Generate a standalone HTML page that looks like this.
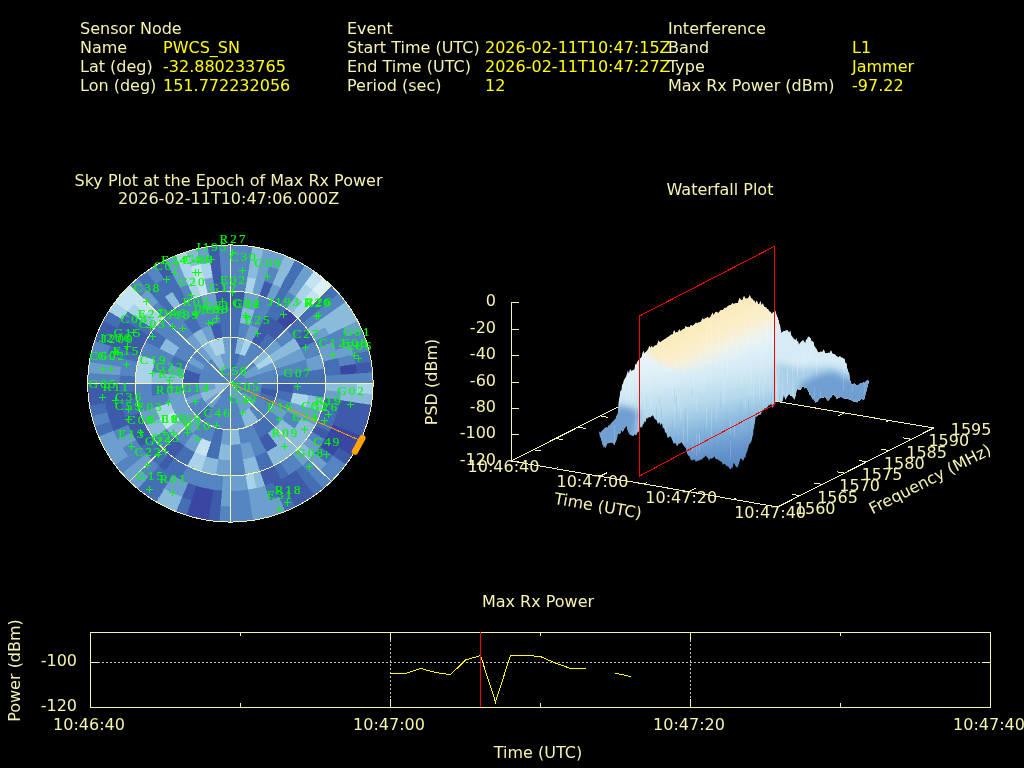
<!DOCTYPE html>
<html><head><meta charset="utf-8"><title>Interference Event</title>
<style>
html,body{margin:0;padding:0;background:#000;}
svg{display:block;opacity:.999;}
text{font-family:"DejaVu Sans","Liberation Sans",sans-serif;font-size:16px;fill:#f6f3ae;}
.v{fill:#ffff00;}
.sat text{font-family:"Liberation Serif","DejaVu Serif",serif;font-size:13px;letter-spacing:2.1px;fill:#00ff00;stroke:#00ff00;stroke-width:.2px;text-anchor:middle;}
.ax{stroke:#f6f3ae;stroke-width:1;fill:none;}
.cr{shape-rendering:crispEdges;}
</style></head><body>
<svg width="1024" height="768" viewBox="0 0 1024 768">
<rect width="1024" height="768" fill="#000"/>
<g id="hdr">
<text x="80" y="34">Sensor Node</text>
<text x="80" y="53">Name</text><text x="163" y="53" class="v">PWCS_SN</text>
<text x="80" y="72">Lat (deg)</text><text x="163" y="72" class="v">-32.880233765</text>
<text x="80" y="91">Lon (deg)</text><text x="163" y="91" class="v">151.772232056</text>
<text x="347" y="34">Event</text>
<text x="347" y="53">Start Time (UTC)</text><text x="485" y="53" class="v">2026-02-11T10:47:15Z</text>
<text x="347" y="72">End Time (UTC)</text><text x="485" y="72" class="v">2026-02-11T10:47:27Z</text>
<text x="347" y="91">Period (sec)</text><text x="485" y="91" class="v">12</text>
<text x="668" y="34">Interference</text>
<text x="668" y="53">Band</text><text x="852" y="53" class="v">L1</text>
<text x="668" y="72">Type</text><text x="852" y="72" class="v">Jammer</text>
<text x="668" y="91">Max Rx Power (dBm)</text><text x="852" y="91" class="v">-97.22</text>
</g>

<g id="sky">
<text x="228.5" y="186" text-anchor="middle">Sky Plot at the Epoch of Max Rx Power</text>
<text x="228.5" y="204" text-anchor="middle">2026-02-11T10:47:06.000Z</text>
<clipPath id="skc"><ellipse cx="230.4" cy="383.5" rx="142.8" ry="138.6"/></clipPath>
<g clip-path="url(#skc)" shape-rendering="crispEdges">
<rect x="80" y="240" width="300" height="290" fill="#5585c1"/>
<path fill="#5585c1" stroke="#5585c1" stroke-width=".6" d="M230.4 368.1L231.1 368.1L231.7 368.2L232.4 368.2L233.0 368.3L233.7 368.4L234.3 368.6L234.9 368.7L235.6 368.9L236.2 369.2L236.8 369.4L237.4 369.7L238.0 370.0L238.5 370.3L239.1 370.6L239.6 371.0L240.1 371.3L240.7 371.7L241.1 372.2L241.6 372.6L230.4 383.5 Z"/>
<path fill="#5585c1" stroke="#5585c1" stroke-width=".6" d="M241.6 372.6L242.1 373.1L242.5 373.5L242.9 374.0L243.3 374.6L243.7 375.1L244.0 375.6L244.4 376.2L244.7 376.7L244.9 377.3L245.2 377.9L245.4 378.5L245.6 379.1L245.8 379.7L245.9 380.3L246.1 381.0L246.1 381.6L246.2 382.2L246.3 382.9L246.3 383.5L230.4 383.5 Z"/>
<path fill="#5585c1" stroke="#5585c1" stroke-width=".6" d="M246.3 383.5L246.3 384.1L246.2 384.8L246.1 385.4L246.1 386.0L245.9 386.7L245.8 387.3L245.6 387.9L245.4 388.5L245.2 389.1L244.9 389.7L244.7 390.3L244.4 390.8L244.0 391.4L243.7 391.9L243.3 392.4L242.9 393.0L242.5 393.5L242.1 393.9L241.6 394.4L230.4 383.5 Z"/>
<path fill="#6c9fce" stroke="#6c9fce" stroke-width=".6" d="M241.6 394.4L241.1 394.8L240.7 395.3L240.1 395.7L239.6 396.0L239.1 396.4L238.5 396.7L238.0 397.0L237.4 397.3L236.8 397.6L236.2 397.8L235.6 398.1L234.9 398.3L234.3 398.4L233.7 398.6L233.0 398.7L232.4 398.8L231.7 398.8L231.1 398.9L230.4 398.9L230.4 383.5 Z"/>
<path fill="#5585c1" stroke="#5585c1" stroke-width=".6" d="M230.4 398.9L229.7 398.9L229.1 398.8L228.4 398.8L227.8 398.7L227.1 398.6L226.5 398.4L225.9 398.3L225.2 398.1L224.6 397.8L224.0 397.6L223.4 397.3L222.8 397.0L222.3 396.7L221.7 396.4L221.2 396.0L220.7 395.7L220.1 395.3L219.7 394.8L219.2 394.4L230.4 383.5 Z"/>
<path fill="#8abbdb" stroke="#8abbdb" stroke-width=".6" d="M219.2 394.4L218.7 393.9L218.3 393.5L217.9 393.0L217.5 392.4L217.1 391.9L216.8 391.4L216.4 390.8L216.1 390.3L215.9 389.7L215.6 389.1L215.4 388.5L215.2 387.9L215.0 387.3L214.9 386.7L214.7 386.0L214.7 385.4L214.6 384.8L214.5 384.1L214.5 383.5L230.4 383.5 Z"/>
<path fill="#5585c1" stroke="#5585c1" stroke-width=".6" d="M214.5 383.5L214.5 382.9L214.6 382.2L214.7 381.6L214.7 381.0L214.9 380.3L215.0 379.7L215.2 379.1L215.4 378.5L215.6 377.9L215.9 377.3L216.1 376.7L216.4 376.2L216.8 375.6L217.1 375.1L217.5 374.6L217.9 374.0L218.3 373.5L218.7 373.1L219.2 372.6L230.4 383.5 Z"/>
<path fill="#5585c1" stroke="#5585c1" stroke-width=".6" d="M219.2 372.6L219.7 372.2L220.1 371.7L220.7 371.3L221.2 371.0L221.7 370.6L222.3 370.3L222.8 370.0L223.4 369.7L224.0 369.4L224.6 369.2L225.2 368.9L225.9 368.7L226.5 368.6L227.1 368.4L227.8 368.3L228.4 368.2L229.1 368.2L229.7 368.1L230.4 368.1L230.4 383.5 Z"/>
<path fill="#456fb5" stroke="#456fb5" stroke-width=".6" d="M230.4 352.7L231.6 352.7L232.9 352.8L234.1 352.9L235.4 353.1L236.6 353.3L237.8 353.6L239.0 353.9L240.2 354.2L235.3 368.9L234.7 368.7L234.1 368.5L233.5 368.4L232.9 368.3L232.3 368.2L231.6 368.1L231.0 368.1L230.4 368.1 Z"/>
<path fill="#5585c1" stroke="#5585c1" stroke-width=".6" d="M240.2 354.2L241.4 354.6L242.5 355.0L243.7 355.5L244.8 356.1L245.9 356.6L247.0 357.2L248.0 357.9L249.1 358.6L239.7 371.0L239.2 370.7L238.7 370.4L238.2 370.1L237.6 369.8L237.0 369.5L236.5 369.3L235.9 369.1L235.3 368.9 Z"/>
<path fill="#5585c1" stroke="#5585c1" stroke-width=".6" d="M249.1 358.6L250.0 359.3L251.0 360.1L251.9 360.9L252.8 361.7L253.7 362.6L254.5 363.5L255.3 364.4L256.1 365.4L243.2 374.4L242.9 374.0L242.5 373.5L242.1 373.0L241.6 372.6L241.2 372.2L240.7 371.8L240.2 371.4L239.7 371.0 Z"/>
<path fill="#6c9fce" stroke="#6c9fce" stroke-width=".6" d="M256.1 365.4L256.8 366.4L257.5 367.4L258.1 368.5L258.7 369.5L259.2 370.6L259.7 371.7L260.2 372.8L260.6 374.0L245.5 378.7L245.3 378.2L245.1 377.6L244.8 377.1L244.5 376.5L244.2 376.0L243.9 375.5L243.6 374.9L243.2 374.4 Z"/>
<path fill="#5585c1" stroke="#5585c1" stroke-width=".6" d="M260.6 374.0L260.9 375.1L261.3 376.3L261.5 377.5L261.7 378.7L261.9 379.9L262.0 381.1L262.1 382.3L262.1 383.5L246.3 383.5L246.3 382.9L246.2 382.3L246.2 381.7L246.1 381.1L246.0 380.5L245.8 379.9L245.7 379.3L245.5 378.7 Z"/>
<path fill="#5585c1" stroke="#5585c1" stroke-width=".6" d="M262.1 383.5L262.1 384.7L262.0 385.9L261.9 387.1L261.7 388.3L261.5 389.5L261.3 390.7L260.9 391.9L260.6 393.0L245.5 388.3L245.7 387.7L245.8 387.1L246.0 386.5L246.1 385.9L246.2 385.3L246.2 384.7L246.3 384.1L246.3 383.5 Z"/>
<path fill="#5585c1" stroke="#5585c1" stroke-width=".6" d="M260.6 393.0L260.2 394.2L259.7 395.3L259.2 396.4L258.7 397.5L258.1 398.5L257.5 399.6L256.8 400.6L256.1 401.6L243.2 392.6L243.6 392.1L243.9 391.5L244.2 391.0L244.5 390.5L244.8 389.9L245.1 389.4L245.3 388.8L245.5 388.3 Z"/>
<path fill="#6c9fce" stroke="#6c9fce" stroke-width=".6" d="M256.1 401.6L255.3 402.6L254.5 403.5L253.7 404.4L252.8 405.3L251.9 406.1L251.0 406.9L250.0 407.7L249.1 408.4L239.7 396.0L240.2 395.6L240.7 395.2L241.2 394.8L241.6 394.4L242.1 394.0L242.5 393.5L242.9 393.0L243.2 392.6 Z"/>
<path fill="#6c9fce" stroke="#6c9fce" stroke-width=".6" d="M249.1 408.4L248.0 409.1L247.0 409.8L245.9 410.4L244.8 410.9L243.7 411.5L242.5 412.0L241.4 412.4L240.2 412.8L235.3 398.1L235.9 397.9L236.5 397.7L237.0 397.5L237.6 397.2L238.2 396.9L238.7 396.6L239.2 396.3L239.7 396.0 Z"/>
<path fill="#5585c1" stroke="#5585c1" stroke-width=".6" d="M240.2 412.8L239.0 413.1L237.8 413.4L236.6 413.7L235.4 413.9L234.1 414.1L232.9 414.2L231.6 414.3L230.4 414.3L230.4 398.9L231.0 398.9L231.6 398.9L232.3 398.8L232.9 398.7L233.5 398.6L234.1 398.5L234.7 398.3L235.3 398.1 Z"/>
<path fill="#5585c1" stroke="#5585c1" stroke-width=".6" d="M230.4 414.3L229.2 414.3L227.9 414.2L226.7 414.1L225.4 413.9L224.2 413.7L223.0 413.4L221.8 413.1L220.6 412.8L225.5 398.1L226.1 398.3L226.7 398.5L227.3 398.6L227.9 398.7L228.5 398.8L229.2 398.9L229.8 398.9L230.4 398.9 Z"/>
<path fill="#5585c1" stroke="#5585c1" stroke-width=".6" d="M220.6 412.8L219.4 412.4L218.3 412.0L217.1 411.5L216.0 410.9L214.9 410.4L213.8 409.8L212.8 409.1L211.7 408.4L221.1 396.0L221.6 396.3L222.1 396.6L222.6 396.9L223.2 397.2L223.8 397.5L224.3 397.7L224.9 397.9L225.5 398.1 Z"/>
<path fill="#6c9fce" stroke="#6c9fce" stroke-width=".6" d="M211.7 408.4L210.8 407.7L209.8 406.9L208.9 406.1L208.0 405.3L207.1 404.4L206.3 403.5L205.5 402.6L204.7 401.6L217.6 392.6L217.9 393.0L218.3 393.5L218.7 394.0L219.2 394.4L219.6 394.8L220.1 395.2L220.6 395.6L221.1 396.0 Z"/>
<path fill="#8abbdb" stroke="#8abbdb" stroke-width=".6" d="M204.7 401.6L204.0 400.6L203.3 399.6L202.7 398.5L202.1 397.5L201.6 396.4L201.1 395.3L200.6 394.2L200.2 393.0L215.3 388.3L215.5 388.8L215.7 389.4L216.0 389.9L216.3 390.5L216.6 391.0L216.9 391.5L217.2 392.1L217.6 392.6 Z"/>
<path fill="#6c9fce" stroke="#6c9fce" stroke-width=".6" d="M200.2 393.0L199.9 391.9L199.5 390.7L199.3 389.5L199.1 388.3L198.9 387.1L198.8 385.9L198.7 384.7L198.7 383.5L214.5 383.5L214.5 384.1L214.6 384.7L214.6 385.3L214.7 385.9L214.8 386.5L215.0 387.1L215.1 387.7L215.3 388.3 Z"/>
<path fill="#5585c1" stroke="#5585c1" stroke-width=".6" d="M198.7 383.5L198.7 382.3L198.8 381.1L198.9 379.9L199.1 378.7L199.3 377.5L199.5 376.3L199.9 375.1L200.2 374.0L215.3 378.7L215.1 379.3L215.0 379.9L214.8 380.5L214.7 381.1L214.6 381.7L214.6 382.3L214.5 382.9L214.5 383.5 Z"/>
<path fill="#5585c1" stroke="#5585c1" stroke-width=".6" d="M200.2 374.0L200.6 372.8L201.1 371.7L201.6 370.6L202.1 369.5L202.7 368.5L203.3 367.4L204.0 366.4L204.7 365.4L217.6 374.4L217.2 374.9L216.9 375.5L216.6 376.0L216.3 376.5L216.0 377.1L215.7 377.6L215.5 378.2L215.3 378.7 Z"/>
<path fill="#5585c1" stroke="#5585c1" stroke-width=".6" d="M204.7 365.4L205.5 364.4L206.3 363.5L207.1 362.6L208.0 361.7L208.9 360.9L209.8 360.1L210.8 359.3L211.7 358.6L221.1 371.0L220.6 371.4L220.1 371.8L219.6 372.2L219.2 372.6L218.7 373.0L218.3 373.5L217.9 374.0L217.6 374.4 Z"/>
<path fill="#8abbdb" stroke="#8abbdb" stroke-width=".6" d="M211.7 358.6L212.8 357.9L213.8 357.2L214.9 356.6L216.0 356.1L217.1 355.5L218.3 355.0L219.4 354.6L220.6 354.2L225.5 368.9L224.9 369.1L224.3 369.3L223.8 369.5L223.2 369.8L222.6 370.1L222.1 370.4L221.6 370.7L221.1 371.0 Z"/>
<path fill="#6c9fce" stroke="#6c9fce" stroke-width=".6" d="M220.6 354.2L221.8 353.9L223.0 353.6L224.2 353.3L225.4 353.1L226.7 352.9L227.9 352.8L229.2 352.7L230.4 352.7L230.4 368.1L229.8 368.1L229.2 368.1L228.5 368.2L227.9 368.3L227.3 368.4L226.7 368.5L226.1 368.7L225.5 368.9 Z"/>
<path fill="#456fb5" stroke="#456fb5" stroke-width=".6" d="M230.4 337.3L232.3 337.3L234.1 337.4L236.0 337.6L237.8 337.9L235.4 353.1L234.1 352.9L232.9 352.8L231.6 352.7L230.4 352.7 Z"/>
<path fill="#8abbdb" stroke="#8abbdb" stroke-width=".6" d="M237.8 337.9L239.7 338.2L241.5 338.6L243.3 339.0L245.1 339.6L240.2 354.2L239.0 353.9L237.8 353.6L236.6 353.3L235.4 353.1 Z"/>
<path fill="#a9d3e8" stroke="#a9d3e8" stroke-width=".6" d="M245.1 339.6L246.9 340.2L248.6 340.8L250.3 341.5L252.0 342.3L244.8 356.1L243.7 355.5L242.5 355.0L241.4 354.6L240.2 354.2 Z"/>
<path fill="#5585c1" stroke="#5585c1" stroke-width=".6" d="M252.0 342.3L253.7 343.2L255.3 344.1L256.8 345.1L258.4 346.1L249.1 358.6L248.0 357.9L247.0 357.2L245.9 356.6L244.8 356.1 Z"/>
<path fill="#5585c1" stroke="#5585c1" stroke-width=".6" d="M258.4 346.1L259.9 347.2L261.3 348.4L262.7 349.6L264.1 350.8L252.8 361.7L251.9 360.9L251.0 360.1L250.0 359.3L249.1 358.6 Z"/>
<path fill="#8abbdb" stroke="#8abbdb" stroke-width=".6" d="M264.1 350.8L265.4 352.1L266.6 353.5L267.8 354.9L268.9 356.3L256.1 365.4L255.3 364.4L254.5 363.5L253.7 362.6L252.8 361.7 Z"/>
<path fill="#a9d3e8" stroke="#a9d3e8" stroke-width=".6" d="M268.9 356.3L270.0 357.8L271.0 359.4L271.9 360.9L272.8 362.5L258.7 369.5L258.1 368.5L257.5 367.4L256.8 366.4L256.1 365.4 Z"/>
<path fill="#6c9fce" stroke="#6c9fce" stroke-width=".6" d="M272.8 362.5L273.6 364.2L274.4 365.8L275.1 367.5L275.7 369.2L260.6 374.0L260.2 372.8L259.7 371.7L259.2 370.6L258.7 369.5 Z"/>
<path fill="#5585c1" stroke="#5585c1" stroke-width=".6" d="M275.7 369.2L276.2 371.0L276.7 372.7L277.1 374.5L277.4 376.3L261.7 378.7L261.5 377.5L261.3 376.3L260.9 375.1L260.6 374.0 Z"/>
<path fill="#5585c1" stroke="#5585c1" stroke-width=".6" d="M277.4 376.3L277.7 378.1L277.9 379.9L278.0 381.7L278.0 383.5L262.1 383.5L262.1 382.3L262.0 381.1L261.9 379.9L261.7 378.7 Z"/>
<path fill="#456fb5" stroke="#456fb5" stroke-width=".6" d="M278.0 383.5L278.0 385.3L277.9 387.1L277.7 388.9L277.4 390.7L261.7 388.3L261.9 387.1L262.0 385.9L262.1 384.7L262.1 383.5 Z"/>
<path fill="#3e5aab" stroke="#3e5aab" stroke-width=".6" d="M277.4 390.7L277.1 392.5L276.7 394.3L276.2 396.0L275.7 397.8L260.6 393.0L260.9 391.9L261.3 390.7L261.5 389.5L261.7 388.3 Z"/>
<path fill="#456fb5" stroke="#456fb5" stroke-width=".6" d="M275.7 397.8L275.1 399.5L274.4 401.2L273.6 402.8L272.8 404.5L258.7 397.5L259.2 396.4L259.7 395.3L260.2 394.2L260.6 393.0 Z"/>
<path fill="#5585c1" stroke="#5585c1" stroke-width=".6" d="M272.8 404.5L271.9 406.1L271.0 407.6L270.0 409.2L268.9 410.7L256.1 401.6L256.8 400.6L257.5 399.6L258.1 398.5L258.7 397.5 Z"/>
<path fill="#5585c1" stroke="#5585c1" stroke-width=".6" d="M268.9 410.7L267.8 412.1L266.6 413.5L265.4 414.9L264.1 416.2L252.8 405.3L253.7 404.4L254.5 403.5L255.3 402.6L256.1 401.6 Z"/>
<path fill="#5585c1" stroke="#5585c1" stroke-width=".6" d="M264.1 416.2L262.7 417.4L261.3 418.6L259.9 419.8L258.4 420.9L249.1 408.4L250.0 407.7L251.0 406.9L251.9 406.1L252.8 405.3 Z"/>
<path fill="#8abbdb" stroke="#8abbdb" stroke-width=".6" d="M258.4 420.9L256.8 421.9L255.3 422.9L253.7 423.8L252.0 424.7L244.8 410.9L245.9 410.4L247.0 409.8L248.0 409.1L249.1 408.4 Z"/>
<path fill="#8abbdb" stroke="#8abbdb" stroke-width=".6" d="M252.0 424.7L250.3 425.5L248.6 426.2L246.9 426.8L245.1 427.4L240.2 412.8L241.4 412.4L242.5 412.0L243.7 411.5L244.8 410.9 Z"/>
<path fill="#5585c1" stroke="#5585c1" stroke-width=".6" d="M245.1 427.4L243.3 428.0L241.5 428.4L239.7 428.8L237.8 429.1L235.4 413.9L236.6 413.7L237.8 413.4L239.0 413.1L240.2 412.8 Z"/>
<path fill="#5585c1" stroke="#5585c1" stroke-width=".6" d="M237.8 429.1L236.0 429.4L234.1 429.6L232.3 429.7L230.4 429.7L230.4 414.3L231.6 414.3L232.9 414.2L234.1 414.1L235.4 413.9 Z"/>
<path fill="#5585c1" stroke="#5585c1" stroke-width=".6" d="M230.4 429.7L228.5 429.7L226.7 429.6L224.8 429.4L223.0 429.1L225.4 413.9L226.7 414.1L227.9 414.2L229.2 414.3L230.4 414.3 Z"/>
<path fill="#5585c1" stroke="#5585c1" stroke-width=".6" d="M223.0 429.1L221.1 428.8L219.3 428.4L217.5 428.0L215.7 427.4L220.6 412.8L221.8 413.1L223.0 413.4L224.2 413.7L225.4 413.9 Z"/>
<path fill="#5585c1" stroke="#5585c1" stroke-width=".6" d="M215.7 427.4L213.9 426.8L212.2 426.2L210.5 425.5L208.8 424.7L216.0 410.9L217.1 411.5L218.3 412.0L219.4 412.4L220.6 412.8 Z"/>
<path fill="#5585c1" stroke="#5585c1" stroke-width=".6" d="M208.8 424.7L207.1 423.8L205.5 422.9L204.0 421.9L202.4 420.9L211.7 408.4L212.8 409.1L213.8 409.8L214.9 410.4L216.0 410.9 Z"/>
<path fill="#456fb5" stroke="#456fb5" stroke-width=".6" d="M202.4 420.9L200.9 419.8L199.5 418.6L198.1 417.4L196.7 416.2L208.0 405.3L208.9 406.1L209.8 406.9L210.8 407.7L211.7 408.4 Z"/>
<path fill="#5585c1" stroke="#5585c1" stroke-width=".6" d="M196.7 416.2L195.4 414.9L194.2 413.5L193.0 412.1L191.9 410.7L204.7 401.6L205.5 402.6L206.3 403.5L207.1 404.4L208.0 405.3 Z"/>
<path fill="#5585c1" stroke="#5585c1" stroke-width=".6" d="M191.9 410.7L190.8 409.2L189.8 407.6L188.9 406.1L188.0 404.5L202.1 397.5L202.7 398.5L203.3 399.6L204.0 400.6L204.7 401.6 Z"/>
<path fill="#6c9fce" stroke="#6c9fce" stroke-width=".6" d="M188.0 404.5L187.2 402.8L186.4 401.2L185.7 399.5L185.1 397.8L200.2 393.0L200.6 394.2L201.1 395.3L201.6 396.4L202.1 397.5 Z"/>
<path fill="#5585c1" stroke="#5585c1" stroke-width=".6" d="M185.1 397.8L184.6 396.0L184.1 394.3L183.7 392.5L183.4 390.7L199.1 388.3L199.3 389.5L199.5 390.7L199.9 391.9L200.2 393.0 Z"/>
<path fill="#5585c1" stroke="#5585c1" stroke-width=".6" d="M183.4 390.7L183.1 388.9L182.9 387.1L182.8 385.3L182.8 383.5L198.7 383.5L198.7 384.7L198.8 385.9L198.9 387.1L199.1 388.3 Z"/>
<path fill="#3e5aab" stroke="#3e5aab" stroke-width=".6" d="M182.8 383.5L182.8 381.7L182.9 379.9L183.1 378.1L183.4 376.3L199.1 378.7L198.9 379.9L198.8 381.1L198.7 382.3L198.7 383.5 Z"/>
<path fill="#3e5aab" stroke="#3e5aab" stroke-width=".6" d="M183.4 376.3L183.7 374.5L184.1 372.7L184.6 371.0L185.1 369.2L200.2 374.0L199.9 375.1L199.5 376.3L199.3 377.5L199.1 378.7 Z"/>
<path fill="#5585c1" stroke="#5585c1" stroke-width=".6" d="M185.1 369.2L185.7 367.5L186.4 365.8L187.2 364.2L188.0 362.5L202.1 369.5L201.6 370.6L201.1 371.7L200.6 372.8L200.2 374.0 Z"/>
<path fill="#6c9fce" stroke="#6c9fce" stroke-width=".6" d="M188.0 362.5L188.9 360.9L189.8 359.4L190.8 357.8L191.9 356.3L204.7 365.4L204.0 366.4L203.3 367.4L202.7 368.5L202.1 369.5 Z"/>
<path fill="#5585c1" stroke="#5585c1" stroke-width=".6" d="M191.9 356.3L193.0 354.9L194.2 353.5L195.4 352.1L196.7 350.8L208.0 361.7L207.1 362.6L206.3 363.5L205.5 364.4L204.7 365.4 Z"/>
<path fill="#6c9fce" stroke="#6c9fce" stroke-width=".6" d="M196.7 350.8L198.1 349.6L199.5 348.4L200.9 347.2L202.4 346.1L211.7 358.6L210.8 359.3L209.8 360.1L208.9 360.9L208.0 361.7 Z"/>
<path fill="#8abbdb" stroke="#8abbdb" stroke-width=".6" d="M202.4 346.1L204.0 345.1L205.5 344.1L207.1 343.2L208.8 342.3L216.0 356.1L214.9 356.6L213.8 357.2L212.8 357.9L211.7 358.6 Z"/>
<path fill="#a9d3e8" stroke="#a9d3e8" stroke-width=".6" d="M208.8 342.3L210.5 341.5L212.2 340.8L213.9 340.2L215.7 339.6L220.6 354.2L219.4 354.6L218.3 355.0L217.1 355.5L216.0 356.1 Z"/>
<path fill="#a9d3e8" stroke="#a9d3e8" stroke-width=".6" d="M215.7 339.6L217.5 339.0L219.3 338.6L221.1 338.2L223.0 337.9L225.4 353.1L224.2 353.3L223.0 353.6L221.8 353.9L220.6 354.2 Z"/>
<path fill="#6c9fce" stroke="#6c9fce" stroke-width=".6" d="M223.0 337.9L224.8 337.6L226.7 337.4L228.5 337.3L230.4 337.3L230.4 352.7L229.2 352.7L227.9 352.8L226.7 352.9L225.4 353.1 Z"/>
<path fill="#456fb5" stroke="#456fb5" stroke-width=".6" d="M230.4 321.9L232.9 321.9L235.4 322.1L237.9 322.3L240.3 322.7L237.8 337.9L236.0 337.6L234.1 337.4L232.3 337.3L230.4 337.3 Z"/>
<path fill="#5585c1" stroke="#5585c1" stroke-width=".6" d="M240.3 322.7L242.8 323.1L245.2 323.6L247.6 324.2L250.0 324.9L245.1 339.6L243.3 339.0L241.5 338.6L239.7 338.2L237.8 337.9 Z"/>
<path fill="#6c9fce" stroke="#6c9fce" stroke-width=".6" d="M250.0 324.9L252.4 325.7L254.7 326.6L257.0 327.6L259.2 328.6L252.0 342.3L250.3 341.5L248.6 340.8L246.9 340.2L245.1 339.6 Z"/>
<path fill="#3e5aab" stroke="#3e5aab" stroke-width=".6" d="M259.2 328.6L261.4 329.8L263.6 331.0L265.7 332.3L267.7 333.7L258.4 346.1L256.8 345.1L255.3 344.1L253.7 343.2L252.0 342.3 Z"/>
<path fill="#456fb5" stroke="#456fb5" stroke-width=".6" d="M267.7 333.7L269.7 335.1L271.6 336.7L273.5 338.3L275.3 339.9L264.1 350.8L262.7 349.6L261.3 348.4L259.9 347.2L258.4 346.1 Z"/>
<path fill="#6c9fce" stroke="#6c9fce" stroke-width=".6" d="M275.3 339.9L277.0 341.7L278.7 343.5L280.2 345.4L281.7 347.3L268.9 356.3L267.8 354.9L266.6 353.5L265.4 352.1L264.1 350.8 Z"/>
<path fill="#8abbdb" stroke="#8abbdb" stroke-width=".6" d="M281.7 347.3L283.2 349.3L284.5 351.3L285.8 353.4L286.9 355.5L272.8 362.5L271.9 360.9L271.0 359.4L270.0 357.8L268.9 356.3 Z"/>
<path fill="#6c9fce" stroke="#6c9fce" stroke-width=".6" d="M286.9 355.5L288.0 357.7L289.0 359.9L289.9 362.2L290.8 364.5L275.7 369.2L275.1 367.5L274.4 365.8L273.6 364.2L272.8 362.5 Z"/>
<path fill="#5585c1" stroke="#5585c1" stroke-width=".6" d="M290.8 364.5L291.5 366.8L292.1 369.1L292.6 371.5L293.1 373.9L277.4 376.3L277.1 374.5L276.7 372.7L276.2 371.0L275.7 369.2 Z"/>
<path fill="#456fb5" stroke="#456fb5" stroke-width=".6" d="M293.1 373.9L293.4 376.3L293.7 378.7L293.8 381.1L293.9 383.5L278.0 383.5L278.0 381.7L277.9 379.9L277.7 378.1L277.4 376.3 Z"/>
<path fill="#3e5aab" stroke="#3e5aab" stroke-width=".6" d="M293.9 383.5L293.8 385.9L293.7 388.3L293.4 390.7L293.1 393.1L277.4 390.7L277.7 388.9L277.9 387.1L278.0 385.3L278.0 383.5 Z"/>
<path fill="#456fb5" stroke="#456fb5" stroke-width=".6" d="M293.1 393.1L292.6 395.5L292.1 397.9L291.5 400.2L290.8 402.5L275.7 397.8L276.2 396.0L276.7 394.3L277.1 392.5L277.4 390.7 Z"/>
<path fill="#5585c1" stroke="#5585c1" stroke-width=".6" d="M290.8 402.5L289.9 404.8L289.0 407.1L288.0 409.3L286.9 411.5L272.8 404.5L273.6 402.8L274.4 401.2L275.1 399.5L275.7 397.8 Z"/>
<path fill="#6c9fce" stroke="#6c9fce" stroke-width=".6" d="M286.9 411.5L285.8 413.6L284.5 415.7L283.2 417.7L281.7 419.7L268.9 410.7L270.0 409.2L271.0 407.6L271.9 406.1L272.8 404.5 Z"/>
<path fill="#5585c1" stroke="#5585c1" stroke-width=".6" d="M281.7 419.7L280.2 421.6L278.7 423.5L277.0 425.3L275.3 427.1L264.1 416.2L265.4 414.9L266.6 413.5L267.8 412.1L268.9 410.7 Z"/>
<path fill="#456fb5" stroke="#456fb5" stroke-width=".6" d="M275.3 427.1L273.5 428.7L271.6 430.3L269.7 431.9L267.7 433.3L258.4 420.9L259.9 419.8L261.3 418.6L262.7 417.4L264.1 416.2 Z"/>
<path fill="#456fb5" stroke="#456fb5" stroke-width=".6" d="M267.7 433.3L265.7 434.7L263.6 436.0L261.4 437.2L259.2 438.4L252.0 424.7L253.7 423.8L255.3 422.9L256.8 421.9L258.4 420.9 Z"/>
<path fill="#5585c1" stroke="#5585c1" stroke-width=".6" d="M259.2 438.4L257.0 439.4L254.7 440.4L252.4 441.3L250.0 442.1L245.1 427.4L246.9 426.8L248.6 426.2L250.3 425.5L252.0 424.7 Z"/>
<path fill="#5585c1" stroke="#5585c1" stroke-width=".6" d="M250.0 442.1L247.6 442.8L245.2 443.4L242.8 443.9L240.3 444.3L237.8 429.1L239.7 428.8L241.5 428.4L243.3 428.0L245.1 427.4 Z"/>
<path fill="#8abbdb" stroke="#8abbdb" stroke-width=".6" d="M240.3 444.3L237.9 444.7L235.4 444.9L232.9 445.1L230.4 445.1L230.4 429.7L232.3 429.7L234.1 429.6L236.0 429.4L237.8 429.1 Z"/>
<path fill="#6c9fce" stroke="#6c9fce" stroke-width=".6" d="M230.4 445.1L227.9 445.1L225.4 444.9L222.9 444.7L220.5 444.3L223.0 429.1L224.8 429.4L226.7 429.6L228.5 429.7L230.4 429.7 Z"/>
<path fill="#456fb5" stroke="#456fb5" stroke-width=".6" d="M220.5 444.3L218.0 443.9L215.6 443.4L213.2 442.8L210.8 442.1L215.7 427.4L217.5 428.0L219.3 428.4L221.1 428.8L223.0 429.1 Z"/>
<path fill="#5585c1" stroke="#5585c1" stroke-width=".6" d="M210.8 442.1L208.4 441.3L206.1 440.4L203.8 439.4L201.6 438.4L208.8 424.7L210.5 425.5L212.2 426.2L213.9 426.8L215.7 427.4 Z"/>
<path fill="#5585c1" stroke="#5585c1" stroke-width=".6" d="M201.6 438.4L199.4 437.2L197.2 436.0L195.1 434.7L193.1 433.3L202.4 420.9L204.0 421.9L205.5 422.9L207.1 423.8L208.8 424.7 Z"/>
<path fill="#6c9fce" stroke="#6c9fce" stroke-width=".6" d="M193.1 433.3L191.1 431.9L189.2 430.3L187.3 428.7L185.5 427.1L196.7 416.2L198.1 417.4L199.5 418.6L200.9 419.8L202.4 420.9 Z"/>
<path fill="#6c9fce" stroke="#6c9fce" stroke-width=".6" d="M185.5 427.1L183.8 425.3L182.1 423.5L180.6 421.6L179.1 419.7L191.9 410.7L193.0 412.1L194.2 413.5L195.4 414.9L196.7 416.2 Z"/>
<path fill="#6c9fce" stroke="#6c9fce" stroke-width=".6" d="M179.1 419.7L177.6 417.7L176.3 415.7L175.0 413.6L173.9 411.5L188.0 404.5L188.9 406.1L189.8 407.6L190.8 409.2L191.9 410.7 Z"/>
<path fill="#6c9fce" stroke="#6c9fce" stroke-width=".6" d="M173.9 411.5L172.8 409.3L171.8 407.1L170.9 404.8L170.0 402.5L185.1 397.8L185.7 399.5L186.4 401.2L187.2 402.8L188.0 404.5 Z"/>
<path fill="#6c9fce" stroke="#6c9fce" stroke-width=".6" d="M170.0 402.5L169.3 400.2L168.7 397.9L168.2 395.5L167.7 393.1L183.4 390.7L183.7 392.5L184.1 394.3L184.6 396.0L185.1 397.8 Z"/>
<path fill="#5585c1" stroke="#5585c1" stroke-width=".6" d="M167.7 393.1L167.4 390.7L167.1 388.3L167.0 385.9L166.9 383.5L182.8 383.5L182.8 385.3L182.9 387.1L183.1 388.9L183.4 390.7 Z"/>
<path fill="#8abbdb" stroke="#8abbdb" stroke-width=".6" d="M166.9 383.5L167.0 381.1L167.1 378.7L167.4 376.3L167.7 373.9L183.4 376.3L183.1 378.1L182.9 379.9L182.8 381.7L182.8 383.5 Z"/>
<path fill="#6c9fce" stroke="#6c9fce" stroke-width=".6" d="M167.7 373.9L168.2 371.5L168.7 369.1L169.3 366.8L170.0 364.5L185.1 369.2L184.6 371.0L184.1 372.7L183.7 374.5L183.4 376.3 Z"/>
<path fill="#456fb5" stroke="#456fb5" stroke-width=".6" d="M170.0 364.5L170.9 362.2L171.8 359.9L172.8 357.7L173.9 355.5L188.0 362.5L187.2 364.2L186.4 365.8L185.7 367.5L185.1 369.2 Z"/>
<path fill="#5585c1" stroke="#5585c1" stroke-width=".6" d="M173.9 355.5L175.0 353.4L176.3 351.3L177.6 349.3L179.1 347.3L191.9 356.3L190.8 357.8L189.8 359.4L188.9 360.9L188.0 362.5 Z"/>
<path fill="#5585c1" stroke="#5585c1" stroke-width=".6" d="M179.1 347.3L180.6 345.4L182.1 343.5L183.8 341.7L185.5 339.9L196.7 350.8L195.4 352.1L194.2 353.5L193.0 354.9L191.9 356.3 Z"/>
<path fill="#6c9fce" stroke="#6c9fce" stroke-width=".6" d="M185.5 339.9L187.3 338.3L189.2 336.7L191.1 335.1L193.1 333.7L202.4 346.1L200.9 347.2L199.5 348.4L198.1 349.6L196.7 350.8 Z"/>
<path fill="#8abbdb" stroke="#8abbdb" stroke-width=".6" d="M193.1 333.7L195.1 332.3L197.2 331.0L199.4 329.8L201.6 328.6L208.8 342.3L207.1 343.2L205.5 344.1L204.0 345.1L202.4 346.1 Z"/>
<path fill="#6c9fce" stroke="#6c9fce" stroke-width=".6" d="M201.6 328.6L203.8 327.6L206.1 326.6L208.4 325.7L210.8 324.9L215.7 339.6L213.9 340.2L212.2 340.8L210.5 341.5L208.8 342.3 Z"/>
<path fill="#3e5aab" stroke="#3e5aab" stroke-width=".6" d="M210.8 324.9L213.2 324.2L215.6 323.6L218.0 323.1L220.5 322.7L223.0 337.9L221.1 338.2L219.3 338.6L217.5 339.0L215.7 339.6 Z"/>
<path fill="#456fb5" stroke="#456fb5" stroke-width=".6" d="M220.5 322.7L222.9 322.3L225.4 322.1L227.9 321.9L230.4 321.9L230.4 337.3L228.5 337.3L226.7 337.4L224.8 337.6L223.0 337.9 Z"/>
<path fill="#456fb5" stroke="#456fb5" stroke-width=".6" d="M230.4 306.5L233.5 306.6L236.6 306.7L239.7 307.0L242.8 307.4L240.3 322.7L237.9 322.3L235.4 322.1L232.9 321.9L230.4 321.9 Z"/>
<path fill="#8abbdb" stroke="#8abbdb" stroke-width=".6" d="M242.8 307.4L245.9 308.0L248.9 308.6L251.9 309.4L254.9 310.3L250.0 324.9L247.6 324.2L245.2 323.6L242.8 323.1L240.3 322.7 Z"/>
<path fill="#5585c1" stroke="#5585c1" stroke-width=".6" d="M254.9 310.3L257.9 311.3L260.8 312.4L263.6 313.6L266.4 314.9L259.2 328.6L257.0 327.6L254.7 326.6L252.4 325.7L250.0 324.9 Z"/>
<path fill="#3e5aab" stroke="#3e5aab" stroke-width=".6" d="M266.4 314.9L269.2 316.3L271.9 317.8L274.5 319.5L277.0 321.2L267.7 333.7L265.7 332.3L263.6 331.0L261.4 329.8L259.2 328.6 Z"/>
<path fill="#3e5aab" stroke="#3e5aab" stroke-width=".6" d="M277.0 321.2L279.5 323.0L281.9 324.9L284.3 327.0L286.5 329.1L275.3 339.9L273.5 338.3L271.6 336.7L269.7 335.1L267.7 333.7 Z"/>
<path fill="#5585c1" stroke="#5585c1" stroke-width=".6" d="M286.5 329.1L288.7 331.2L290.7 333.5L292.7 335.8L294.6 338.2L281.7 347.3L280.2 345.4L278.7 343.5L277.0 341.7L275.3 339.9 Z"/>
<path fill="#8abbdb" stroke="#8abbdb" stroke-width=".6" d="M294.6 338.2L296.4 340.7L298.0 343.3L299.6 345.9L301.1 348.5L286.9 355.5L285.8 353.4L284.5 351.3L283.2 349.3L281.7 347.3 Z"/>
<path fill="#6c9fce" stroke="#6c9fce" stroke-width=".6" d="M301.1 348.5L302.4 351.3L303.7 354.0L304.8 356.8L305.9 359.7L290.8 364.5L289.9 362.2L289.0 359.9L288.0 357.7L286.9 355.5 Z"/>
<path fill="#5585c1" stroke="#5585c1" stroke-width=".6" d="M305.9 359.7L306.8 362.6L307.5 365.5L308.2 368.5L308.8 371.5L293.1 373.9L292.6 371.5L292.1 369.1L291.5 366.8L290.8 364.5 Z"/>
<path fill="#456fb5" stroke="#456fb5" stroke-width=".6" d="M308.8 371.5L309.2 374.4L309.5 377.5L309.7 380.5L309.7 383.5L293.9 383.5L293.8 381.1L293.7 378.7L293.4 376.3L293.1 373.9 Z"/>
<path fill="#456fb5" stroke="#456fb5" stroke-width=".6" d="M309.7 383.5L309.7 386.5L309.5 389.5L309.2 392.6L308.8 395.5L293.1 393.1L293.4 390.7L293.7 388.3L293.8 385.9L293.9 383.5 Z"/>
<path fill="#a9d3e8" stroke="#a9d3e8" stroke-width=".6" d="M308.8 395.5L308.2 398.5L307.5 401.5L306.8 404.4L305.9 407.3L290.8 402.5L291.5 400.2L292.1 397.9L292.6 395.5L293.1 393.1 Z"/>
<path fill="#6c9fce" stroke="#6c9fce" stroke-width=".6" d="M305.9 407.3L304.8 410.2L303.7 413.0L302.4 415.7L301.1 418.5L286.9 411.5L288.0 409.3L289.0 407.1L289.9 404.8L290.8 402.5 Z"/>
<path fill="#5585c1" stroke="#5585c1" stroke-width=".6" d="M301.1 418.5L299.6 421.1L298.0 423.7L296.4 426.3L294.6 428.8L281.7 419.7L283.2 417.7L284.5 415.7L285.8 413.6L286.9 411.5 Z"/>
<path fill="#8abbdb" stroke="#8abbdb" stroke-width=".6" d="M294.6 428.8L292.7 431.2L290.7 433.5L288.7 435.8L286.5 437.9L275.3 427.1L277.0 425.3L278.7 423.5L280.2 421.6L281.7 419.7 Z"/>
<path fill="#8abbdb" stroke="#8abbdb" stroke-width=".6" d="M286.5 437.9L284.3 440.0L281.9 442.1L279.5 444.0L277.0 445.8L267.7 433.3L269.7 431.9L271.6 430.3L273.5 428.7L275.3 427.1 Z"/>
<path fill="#3e5aab" stroke="#3e5aab" stroke-width=".6" d="M277.0 445.8L274.5 447.5L271.9 449.2L269.2 450.7L266.4 452.1L259.2 438.4L261.4 437.2L263.6 436.0L265.7 434.7L267.7 433.3 Z"/>
<path fill="#5585c1" stroke="#5585c1" stroke-width=".6" d="M266.4 452.1L263.6 453.4L260.8 454.6L257.9 455.7L254.9 456.7L250.0 442.1L252.4 441.3L254.7 440.4L257.0 439.4L259.2 438.4 Z"/>
<path fill="#6c9fce" stroke="#6c9fce" stroke-width=".6" d="M254.9 456.7L251.9 457.6L248.9 458.4L245.9 459.0L242.8 459.6L240.3 444.3L242.8 443.9L245.2 443.4L247.6 442.8L250.0 442.1 Z"/>
<path fill="#5585c1" stroke="#5585c1" stroke-width=".6" d="M242.8 459.6L239.7 460.0L236.6 460.3L233.5 460.4L230.4 460.5L230.4 445.1L232.9 445.1L235.4 444.9L237.9 444.7L240.3 444.3 Z"/>
<path fill="#8abbdb" stroke="#8abbdb" stroke-width=".6" d="M230.4 460.5L227.3 460.4L224.2 460.3L221.1 460.0L218.0 459.6L220.5 444.3L222.9 444.7L225.4 444.9L227.9 445.1L230.4 445.1 Z"/>
<path fill="#456fb5" stroke="#456fb5" stroke-width=".6" d="M218.0 459.6L214.9 459.0L211.9 458.4L208.9 457.6L205.9 456.7L210.8 442.1L213.2 442.8L215.6 443.4L218.0 443.9L220.5 444.3 Z"/>
<path fill="#c4e3f0" stroke="#c4e3f0" stroke-width=".6" d="M205.9 456.7L202.9 455.7L200.0 454.6L197.2 453.4L194.4 452.1L201.6 438.4L203.8 439.4L206.1 440.4L208.4 441.3L210.8 442.1 Z"/>
<path fill="#6c9fce" stroke="#6c9fce" stroke-width=".6" d="M194.4 452.1L191.6 450.7L188.9 449.2L186.3 447.5L183.8 445.8L193.1 433.3L195.1 434.7L197.2 436.0L199.4 437.2L201.6 438.4 Z"/>
<path fill="#5585c1" stroke="#5585c1" stroke-width=".6" d="M183.8 445.8L181.3 444.0L178.9 442.1L176.5 440.0L174.3 437.9L185.5 427.1L187.3 428.7L189.2 430.3L191.1 431.9L193.1 433.3 Z"/>
<path fill="#8abbdb" stroke="#8abbdb" stroke-width=".6" d="M174.3 437.9L172.1 435.8L170.1 433.5L168.1 431.2L166.2 428.8L179.1 419.7L180.6 421.6L182.1 423.5L183.8 425.3L185.5 427.1 Z"/>
<path fill="#c4e3f0" stroke="#c4e3f0" stroke-width=".6" d="M166.2 428.8L164.4 426.3L162.8 423.7L161.2 421.1L159.7 418.5L173.9 411.5L175.0 413.6L176.3 415.7L177.6 417.7L179.1 419.7 Z"/>
<path fill="#a9d3e8" stroke="#a9d3e8" stroke-width=".6" d="M159.7 418.5L158.4 415.7L157.1 413.0L156.0 410.2L154.9 407.3L170.0 402.5L170.9 404.8L171.8 407.1L172.8 409.3L173.9 411.5 Z"/>
<path fill="#5585c1" stroke="#5585c1" stroke-width=".6" d="M154.9 407.3L154.0 404.4L153.3 401.5L152.6 398.5L152.0 395.5L167.7 393.1L168.2 395.5L168.7 397.9L169.3 400.2L170.0 402.5 Z"/>
<path fill="#456fb5" stroke="#456fb5" stroke-width=".6" d="M152.0 395.5L151.6 392.6L151.3 389.5L151.1 386.5L151.1 383.5L166.9 383.5L167.0 385.9L167.1 388.3L167.4 390.7L167.7 393.1 Z"/>
<path fill="#8abbdb" stroke="#8abbdb" stroke-width=".6" d="M151.1 383.5L151.1 380.5L151.3 377.5L151.6 374.4L152.0 371.5L167.7 373.9L167.4 376.3L167.1 378.7L167.0 381.1L166.9 383.5 Z"/>
<path fill="#5585c1" stroke="#5585c1" stroke-width=".6" d="M152.0 371.5L152.6 368.5L153.3 365.5L154.0 362.6L154.9 359.7L170.0 364.5L169.3 366.8L168.7 369.1L168.2 371.5L167.7 373.9 Z"/>
<path fill="#5585c1" stroke="#5585c1" stroke-width=".6" d="M154.9 359.7L156.0 356.8L157.1 354.0L158.4 351.3L159.7 348.5L173.9 355.5L172.8 357.7L171.8 359.9L170.9 362.2L170.0 364.5 Z"/>
<path fill="#8abbdb" stroke="#8abbdb" stroke-width=".6" d="M159.7 348.5L161.2 345.9L162.8 343.3L164.4 340.7L166.2 338.2L179.1 347.3L177.6 349.3L176.3 351.3L175.0 353.4L173.9 355.5 Z"/>
<path fill="#5585c1" stroke="#5585c1" stroke-width=".6" d="M166.2 338.2L168.1 335.8L170.1 333.5L172.1 331.2L174.3 329.1L185.5 339.9L183.8 341.7L182.1 343.5L180.6 345.4L179.1 347.3 Z"/>
<path fill="#5585c1" stroke="#5585c1" stroke-width=".6" d="M174.3 329.1L176.5 327.0L178.9 324.9L181.3 323.0L183.8 321.2L193.1 333.7L191.1 335.1L189.2 336.7L187.3 338.3L185.5 339.9 Z"/>
<path fill="#456fb5" stroke="#456fb5" stroke-width=".6" d="M183.8 321.2L186.3 319.5L188.9 317.8L191.6 316.3L194.4 314.9L201.6 328.6L199.4 329.8L197.2 331.0L195.1 332.3L193.1 333.7 Z"/>
<path fill="#5585c1" stroke="#5585c1" stroke-width=".6" d="M194.4 314.9L197.2 313.6L200.0 312.4L202.9 311.3L205.9 310.3L210.8 324.9L208.4 325.7L206.1 326.6L203.8 327.6L201.6 328.6 Z"/>
<path fill="#5585c1" stroke="#5585c1" stroke-width=".6" d="M205.9 310.3L208.9 309.4L211.9 308.6L214.9 308.0L218.0 307.4L220.5 322.7L218.0 323.1L215.6 323.6L213.2 324.2L210.8 324.9 Z"/>
<path fill="#456fb5" stroke="#456fb5" stroke-width=".6" d="M218.0 307.4L221.1 307.0L224.2 306.7L227.3 306.6L230.4 306.5L230.4 321.9L227.9 321.9L225.4 322.1L222.9 322.3L220.5 322.7 Z"/>
<path fill="#3e5aab" stroke="#3e5aab" stroke-width=".6" d="M230.4 291.1L234.1 291.2L237.9 291.4L241.6 291.7L245.3 292.2L242.8 307.4L239.7 307.0L236.6 306.7L233.5 306.6L230.4 306.5 Z"/>
<path fill="#6c9fce" stroke="#6c9fce" stroke-width=".6" d="M245.3 292.2L249.0 292.9L252.6 293.7L256.2 294.6L259.8 295.6L254.9 310.3L251.9 309.4L248.9 308.6L245.9 308.0L242.8 307.4 Z"/>
<path fill="#5585c1" stroke="#5585c1" stroke-width=".6" d="M259.8 295.6L263.4 296.8L266.8 298.1L270.3 299.6L273.6 301.2L266.4 314.9L263.6 313.6L260.8 312.4L257.9 311.3L254.9 310.3 Z"/>
<path fill="#456fb5" stroke="#456fb5" stroke-width=".6" d="M273.6 301.2L276.9 302.9L280.1 304.7L283.3 306.7L286.4 308.7L277.0 321.2L274.5 319.5L271.9 317.8L269.2 316.3L266.4 314.9 Z"/>
<path fill="#3a47a2" stroke="#3a47a2" stroke-width=".6" d="M286.4 308.7L289.3 310.9L292.2 313.2L295.0 315.6L297.7 318.2L286.5 329.1L284.3 327.0L281.9 324.9L279.5 323.0L277.0 321.2 Z"/>
<path fill="#456fb5" stroke="#456fb5" stroke-width=".6" d="M297.7 318.2L300.3 320.8L302.8 323.5L305.2 326.3L307.4 329.2L294.6 338.2L292.7 335.8L290.7 333.5L288.7 331.2L286.5 329.1 Z"/>
<path fill="#3e5aab" stroke="#3e5aab" stroke-width=".6" d="M307.4 329.2L309.6 332.2L311.6 335.2L313.5 338.4L315.2 341.6L301.1 348.5L299.6 345.9L298.0 343.3L296.4 340.7L294.6 338.2 Z"/>
<path fill="#5585c1" stroke="#5585c1" stroke-width=".6" d="M315.2 341.6L316.9 344.8L318.4 348.1L319.7 351.5L320.9 354.9L305.9 359.7L304.8 356.8L303.7 354.0L302.4 351.3L301.1 348.5 Z"/>
<path fill="#6c9fce" stroke="#6c9fce" stroke-width=".6" d="M320.9 354.9L322.0 358.4L323.0 361.9L323.8 365.5L324.4 369.0L308.8 371.5L308.2 368.5L307.5 365.5L306.8 362.6L305.9 359.7 Z"/>
<path fill="#456fb5" stroke="#456fb5" stroke-width=".6" d="M324.4 369.0L324.9 372.6L325.3 376.3L325.5 379.9L325.6 383.5L309.7 383.5L309.7 380.5L309.5 377.5L309.2 374.4L308.8 371.5 Z"/>
<path fill="#456fb5" stroke="#456fb5" stroke-width=".6" d="M325.6 383.5L325.5 387.1L325.3 390.7L324.9 394.4L324.4 398.0L308.8 395.5L309.2 392.6L309.5 389.5L309.7 386.5L309.7 383.5 Z"/>
<path fill="#8abbdb" stroke="#8abbdb" stroke-width=".6" d="M324.4 398.0L323.8 401.5L323.0 405.1L322.0 408.6L320.9 412.1L305.9 407.3L306.8 404.4L307.5 401.5L308.2 398.5L308.8 395.5 Z"/>
<path fill="#6c9fce" stroke="#6c9fce" stroke-width=".6" d="M320.9 412.1L319.7 415.5L318.4 418.9L316.9 422.2L315.2 425.4L301.1 418.5L302.4 415.7L303.7 413.0L304.8 410.2L305.9 407.3 Z"/>
<path fill="#8abbdb" stroke="#8abbdb" stroke-width=".6" d="M315.2 425.4L313.5 428.6L311.6 431.8L309.6 434.8L307.4 437.8L294.6 428.8L296.4 426.3L298.0 423.7L299.6 421.1L301.1 418.5 Z"/>
<path fill="#8abbdb" stroke="#8abbdb" stroke-width=".6" d="M307.4 437.8L305.2 440.7L302.8 443.5L300.3 446.2L297.7 448.8L286.5 437.9L288.7 435.8L290.7 433.5L292.7 431.2L294.6 428.8 Z"/>
<path fill="#8abbdb" stroke="#8abbdb" stroke-width=".6" d="M297.7 448.8L295.0 451.4L292.2 453.8L289.3 456.1L286.4 458.3L277.0 445.8L279.5 444.0L281.9 442.1L284.3 440.0L286.5 437.9 Z"/>
<path fill="#8abbdb" stroke="#8abbdb" stroke-width=".6" d="M286.4 458.3L283.3 460.3L280.1 462.3L276.9 464.1L273.6 465.8L266.4 452.1L269.2 450.7L271.9 449.2L274.5 447.5L277.0 445.8 Z"/>
<path fill="#456fb5" stroke="#456fb5" stroke-width=".6" d="M273.6 465.8L270.3 467.4L266.8 468.9L263.4 470.2L259.8 471.4L254.9 456.7L257.9 455.7L260.8 454.6L263.6 453.4L266.4 452.1 Z"/>
<path fill="#8abbdb" stroke="#8abbdb" stroke-width=".6" d="M259.8 471.4L256.2 472.4L252.6 473.3L249.0 474.1L245.3 474.8L242.8 459.6L245.9 459.0L248.9 458.4L251.9 457.6L254.9 456.7 Z"/>
<path fill="#5585c1" stroke="#5585c1" stroke-width=".6" d="M245.3 474.8L241.6 475.3L237.9 475.6L234.1 475.8L230.4 475.9L230.4 460.5L233.5 460.4L236.6 460.3L239.7 460.0L242.8 459.6 Z"/>
<path fill="#6c9fce" stroke="#6c9fce" stroke-width=".6" d="M230.4 475.9L226.7 475.8L222.9 475.6L219.2 475.3L215.5 474.8L218.0 459.6L221.1 460.0L224.2 460.3L227.3 460.4L230.4 460.5 Z"/>
<path fill="#8abbdb" stroke="#8abbdb" stroke-width=".6" d="M215.5 474.8L211.8 474.1L208.2 473.3L204.6 472.4L201.0 471.4L205.9 456.7L208.9 457.6L211.9 458.4L214.9 459.0L218.0 459.6 Z"/>
<path fill="#a9d3e8" stroke="#a9d3e8" stroke-width=".6" d="M201.0 471.4L197.4 470.2L194.0 468.9L190.5 467.4L187.2 465.8L194.4 452.1L197.2 453.4L200.0 454.6L202.9 455.7L205.9 456.7 Z"/>
<path fill="#456fb5" stroke="#456fb5" stroke-width=".6" d="M187.2 465.8L183.9 464.1L180.7 462.3L177.5 460.3L174.4 458.3L183.8 445.8L186.3 447.5L188.9 449.2L191.6 450.7L194.4 452.1 Z"/>
<path fill="#3e5aab" stroke="#3e5aab" stroke-width=".6" d="M174.4 458.3L171.5 456.1L168.6 453.8L165.8 451.4L163.1 448.8L174.3 437.9L176.5 440.0L178.9 442.1L181.3 444.0L183.8 445.8 Z"/>
<path fill="#5585c1" stroke="#5585c1" stroke-width=".6" d="M163.1 448.8L160.5 446.2L158.0 443.5L155.6 440.7L153.4 437.8L166.2 428.8L168.1 431.2L170.1 433.5L172.1 435.8L174.3 437.9 Z"/>
<path fill="#8abbdb" stroke="#8abbdb" stroke-width=".6" d="M153.4 437.8L151.2 434.8L149.2 431.8L147.3 428.6L145.6 425.4L159.7 418.5L161.2 421.1L162.8 423.7L164.4 426.3L166.2 428.8 Z"/>
<path fill="#6c9fce" stroke="#6c9fce" stroke-width=".6" d="M145.6 425.4L143.9 422.2L142.4 418.9L141.1 415.5L139.9 412.1L154.9 407.3L156.0 410.2L157.1 413.0L158.4 415.7L159.7 418.5 Z"/>
<path fill="#5585c1" stroke="#5585c1" stroke-width=".6" d="M139.9 412.1L138.8 408.6L137.8 405.1L137.0 401.5L136.4 398.0L152.0 395.5L152.6 398.5L153.3 401.5L154.0 404.4L154.9 407.3 Z"/>
<path fill="#5585c1" stroke="#5585c1" stroke-width=".6" d="M136.4 398.0L135.9 394.4L135.5 390.7L135.3 387.1L135.2 383.5L151.1 383.5L151.1 386.5L151.3 389.5L151.6 392.6L152.0 395.5 Z"/>
<path fill="#a9d3e8" stroke="#a9d3e8" stroke-width=".6" d="M135.2 383.5L135.3 379.9L135.5 376.3L135.9 372.6L136.4 369.0L152.0 371.5L151.6 374.4L151.3 377.5L151.1 380.5L151.1 383.5 Z"/>
<path fill="#a9d3e8" stroke="#a9d3e8" stroke-width=".6" d="M136.4 369.0L137.0 365.5L137.8 361.9L138.8 358.4L139.9 354.9L154.9 359.7L154.0 362.6L153.3 365.5L152.6 368.5L152.0 371.5 Z"/>
<path fill="#5585c1" stroke="#5585c1" stroke-width=".6" d="M139.9 354.9L141.1 351.5L142.4 348.1L143.9 344.8L145.6 341.6L159.7 348.5L158.4 351.3L157.1 354.0L156.0 356.8L154.9 359.7 Z"/>
<path fill="#456fb5" stroke="#456fb5" stroke-width=".6" d="M145.6 341.6L147.3 338.4L149.2 335.2L151.2 332.2L153.4 329.2L166.2 338.2L164.4 340.7L162.8 343.3L161.2 345.9L159.7 348.5 Z"/>
<path fill="#5585c1" stroke="#5585c1" stroke-width=".6" d="M153.4 329.2L155.6 326.3L158.0 323.5L160.5 320.8L163.1 318.2L174.3 329.1L172.1 331.2L170.1 333.5L168.1 335.8L166.2 338.2 Z"/>
<path fill="#5585c1" stroke="#5585c1" stroke-width=".6" d="M163.1 318.2L165.8 315.6L168.6 313.2L171.5 310.9L174.4 308.7L183.8 321.2L181.3 323.0L178.9 324.9L176.5 327.0L174.3 329.1 Z"/>
<path fill="#5585c1" stroke="#5585c1" stroke-width=".6" d="M174.4 308.7L177.5 306.7L180.7 304.7L183.9 302.9L187.2 301.2L194.4 314.9L191.6 316.3L188.9 317.8L186.3 319.5L183.8 321.2 Z"/>
<path fill="#5585c1" stroke="#5585c1" stroke-width=".6" d="M187.2 301.2L190.5 299.6L194.0 298.1L197.4 296.8L201.0 295.6L205.9 310.3L202.9 311.3L200.0 312.4L197.2 313.6L194.4 314.9 Z"/>
<path fill="#6c9fce" stroke="#6c9fce" stroke-width=".6" d="M201.0 295.6L204.6 294.6L208.2 293.7L211.8 292.9L215.5 292.2L218.0 307.4L214.9 308.0L211.9 308.6L208.9 309.4L205.9 310.3 Z"/>
<path fill="#3e5aab" stroke="#3e5aab" stroke-width=".6" d="M215.5 292.2L219.2 291.7L222.9 291.4L226.7 291.2L230.4 291.1L230.4 306.5L227.3 306.6L224.2 306.7L221.1 307.0L218.0 307.4 Z"/>
<path fill="#5585c1" stroke="#5585c1" stroke-width=".6" d="M230.4 275.7L234.8 275.8L239.1 276.0L237.9 291.4L234.1 291.2L230.4 291.1 Z"/>
<path fill="#5585c1" stroke="#5585c1" stroke-width=".6" d="M239.1 276.0L243.5 276.4L247.8 277.0L245.3 292.2L241.6 291.7L237.9 291.4 Z"/>
<path fill="#a9d3e8" stroke="#a9d3e8" stroke-width=".6" d="M247.8 277.0L252.1 277.8L256.3 278.7L252.6 293.7L249.0 292.9L245.3 292.2 Z"/>
<path fill="#6c9fce" stroke="#6c9fce" stroke-width=".6" d="M256.3 278.7L260.5 279.7L264.7 281.0L259.8 295.6L256.2 294.6L252.6 293.7 Z"/>
<path fill="#3e5aab" stroke="#3e5aab" stroke-width=".6" d="M264.7 281.0L268.8 282.4L272.9 283.9L266.8 298.1L263.4 296.8L259.8 295.6 Z"/>
<path fill="#6c9fce" stroke="#6c9fce" stroke-width=".6" d="M272.9 283.9L276.9 285.6L280.8 287.4L273.6 301.2L270.3 299.6L266.8 298.1 Z"/>
<path fill="#456fb5" stroke="#456fb5" stroke-width=".6" d="M280.8 287.4L284.7 289.4L288.4 291.6L280.1 304.7L276.9 302.9L273.6 301.2 Z"/>
<path fill="#5585c1" stroke="#5585c1" stroke-width=".6" d="M288.4 291.6L292.1 293.9L295.7 296.3L286.4 308.7L283.3 306.7L280.1 304.7 Z"/>
<path fill="#8abbdb" stroke="#8abbdb" stroke-width=".6" d="M295.7 296.3L299.2 298.8L302.5 301.5L292.2 313.2L289.3 310.9L286.4 308.7 Z"/>
<path fill="#a9d3e8" stroke="#a9d3e8" stroke-width=".6" d="M302.5 301.5L305.8 304.3L308.9 307.3L297.7 318.2L295.0 315.6L292.2 313.2 Z"/>
<path fill="#456fb5" stroke="#456fb5" stroke-width=".6" d="M308.9 307.3L312.0 310.3L314.9 313.5L302.8 323.5L300.3 320.8L297.7 318.2 Z"/>
<path fill="#5585c1" stroke="#5585c1" stroke-width=".6" d="M314.9 313.5L317.6 316.8L320.3 320.1L307.4 329.2L305.2 326.3L302.8 323.5 Z"/>
<path fill="#8abbdb" stroke="#8abbdb" stroke-width=".6" d="M320.3 320.1L322.7 323.6L325.1 327.2L311.6 335.2L309.6 332.2L307.4 329.2 Z"/>
<path fill="#6c9fce" stroke="#6c9fce" stroke-width=".6" d="M325.1 327.2L327.3 330.8L329.4 334.6L315.2 341.6L313.5 338.4L311.6 335.2 Z"/>
<path fill="#5585c1" stroke="#5585c1" stroke-width=".6" d="M329.4 334.6L331.3 338.4L333.0 342.2L318.4 348.1L316.9 344.8L315.2 341.6 Z"/>
<path fill="#6c9fce" stroke="#6c9fce" stroke-width=".6" d="M333.0 342.2L334.6 346.2L336.0 350.2L320.9 354.9L319.7 351.5L318.4 348.1 Z"/>
<path fill="#6c9fce" stroke="#6c9fce" stroke-width=".6" d="M336.0 350.2L337.3 354.2L338.4 358.3L323.0 361.9L322.0 358.4L320.9 354.9 Z"/>
<path fill="#456fb5" stroke="#456fb5" stroke-width=".6" d="M338.4 358.3L339.3 362.5L340.1 366.6L324.4 369.0L323.8 365.5L323.0 361.9 Z"/>
<path fill="#456fb5" stroke="#456fb5" stroke-width=".6" d="M340.1 366.6L340.7 370.8L341.1 375.0L325.3 376.3L324.9 372.6L324.4 369.0 Z"/>
<path fill="#5585c1" stroke="#5585c1" stroke-width=".6" d="M341.1 375.0L341.4 379.3L341.5 383.5L325.6 383.5L325.5 379.9L325.3 376.3 Z"/>
<path fill="#8abbdb" stroke="#8abbdb" stroke-width=".6" d="M341.5 383.5L341.4 387.7L341.1 392.0L325.3 390.7L325.5 387.1L325.6 383.5 Z"/>
<path fill="#6c9fce" stroke="#6c9fce" stroke-width=".6" d="M341.1 392.0L340.7 396.2L340.1 400.4L324.4 398.0L324.9 394.4L325.3 390.7 Z"/>
<path fill="#456fb5" stroke="#456fb5" stroke-width=".6" d="M340.1 400.4L339.3 404.5L338.4 408.7L323.0 405.1L323.8 401.5L324.4 398.0 Z"/>
<path fill="#456fb5" stroke="#456fb5" stroke-width=".6" d="M338.4 408.7L337.3 412.8L336.0 416.8L320.9 412.1L322.0 408.6L323.0 405.1 Z"/>
<path fill="#456fb5" stroke="#456fb5" stroke-width=".6" d="M336.0 416.8L334.6 420.8L333.0 424.8L318.4 418.9L319.7 415.5L320.9 412.1 Z"/>
<path fill="#456fb5" stroke="#456fb5" stroke-width=".6" d="M333.0 424.8L331.3 428.6L329.4 432.4L315.2 425.4L316.9 422.2L318.4 418.9 Z"/>
<path fill="#3e5aab" stroke="#3e5aab" stroke-width=".6" d="M329.4 432.4L327.3 436.2L325.1 439.8L311.6 431.8L313.5 428.6L315.2 425.4 Z"/>
<path fill="#5585c1" stroke="#5585c1" stroke-width=".6" d="M325.1 439.8L322.7 443.4L320.3 446.9L307.4 437.8L309.6 434.8L311.6 431.8 Z"/>
<path fill="#6c9fce" stroke="#6c9fce" stroke-width=".6" d="M320.3 446.9L317.6 450.2L314.9 453.5L302.8 443.5L305.2 440.7L307.4 437.8 Z"/>
<path fill="#8abbdb" stroke="#8abbdb" stroke-width=".6" d="M314.9 453.5L312.0 456.7L308.9 459.7L297.7 448.8L300.3 446.2L302.8 443.5 Z"/>
<path fill="#6c9fce" stroke="#6c9fce" stroke-width=".6" d="M308.9 459.7L305.8 462.7L302.5 465.5L292.2 453.8L295.0 451.4L297.7 448.8 Z"/>
<path fill="#5585c1" stroke="#5585c1" stroke-width=".6" d="M302.5 465.5L299.2 468.2L295.7 470.7L286.4 458.3L289.3 456.1L292.2 453.8 Z"/>
<path fill="#5585c1" stroke="#5585c1" stroke-width=".6" d="M295.7 470.7L292.1 473.1L288.4 475.4L280.1 462.3L283.3 460.3L286.4 458.3 Z"/>
<path fill="#456fb5" stroke="#456fb5" stroke-width=".6" d="M288.4 475.4L284.7 477.6L280.8 479.6L273.6 465.8L276.9 464.1L280.1 462.3 Z"/>
<path fill="#3e5aab" stroke="#3e5aab" stroke-width=".6" d="M280.8 479.6L276.9 481.4L272.9 483.1L266.8 468.9L270.3 467.4L273.6 465.8 Z"/>
<path fill="#3e5aab" stroke="#3e5aab" stroke-width=".6" d="M272.9 483.1L268.8 484.6L264.7 486.0L259.8 471.4L263.4 470.2L266.8 468.9 Z"/>
<path fill="#8abbdb" stroke="#8abbdb" stroke-width=".6" d="M264.7 486.0L260.5 487.3L256.3 488.3L252.6 473.3L256.2 472.4L259.8 471.4 Z"/>
<path fill="#a9d3e8" stroke="#a9d3e8" stroke-width=".6" d="M256.3 488.3L252.1 489.2L247.8 490.0L245.3 474.8L249.0 474.1L252.6 473.3 Z"/>
<path fill="#6c9fce" stroke="#6c9fce" stroke-width=".6" d="M247.8 490.0L243.5 490.6L239.1 491.0L237.9 475.6L241.6 475.3L245.3 474.8 Z"/>
<path fill="#6c9fce" stroke="#6c9fce" stroke-width=".6" d="M239.1 491.0L234.8 491.2L230.4 491.3L230.4 475.9L234.1 475.8L237.9 475.6 Z"/>
<path fill="#6c9fce" stroke="#6c9fce" stroke-width=".6" d="M230.4 491.3L226.0 491.2L221.7 491.0L222.9 475.6L226.7 475.8L230.4 475.9 Z"/>
<path fill="#5585c1" stroke="#5585c1" stroke-width=".6" d="M221.7 491.0L217.3 490.6L213.0 490.0L215.5 474.8L219.2 475.3L222.9 475.6 Z"/>
<path fill="#5585c1" stroke="#5585c1" stroke-width=".6" d="M213.0 490.0L208.7 489.2L204.5 488.3L208.2 473.3L211.8 474.1L215.5 474.8 Z"/>
<path fill="#5585c1" stroke="#5585c1" stroke-width=".6" d="M204.5 488.3L200.3 487.3L196.1 486.0L201.0 471.4L204.6 472.4L208.2 473.3 Z"/>
<path fill="#5585c1" stroke="#5585c1" stroke-width=".6" d="M196.1 486.0L192.0 484.6L187.9 483.1L194.0 468.9L197.4 470.2L201.0 471.4 Z"/>
<path fill="#5585c1" stroke="#5585c1" stroke-width=".6" d="M187.9 483.1L183.9 481.4L180.0 479.6L187.2 465.8L190.5 467.4L194.0 468.9 Z"/>
<path fill="#456fb5" stroke="#456fb5" stroke-width=".6" d="M180.0 479.6L176.1 477.6L172.4 475.4L180.7 462.3L183.9 464.1L187.2 465.8 Z"/>
<path fill="#456fb5" stroke="#456fb5" stroke-width=".6" d="M172.4 475.4L168.7 473.1L165.1 470.7L174.4 458.3L177.5 460.3L180.7 462.3 Z"/>
<path fill="#3e5aab" stroke="#3e5aab" stroke-width=".6" d="M165.1 470.7L161.6 468.2L158.3 465.5L168.6 453.8L171.5 456.1L174.4 458.3 Z"/>
<path fill="#456fb5" stroke="#456fb5" stroke-width=".6" d="M158.3 465.5L155.0 462.7L151.9 459.7L163.1 448.8L165.8 451.4L168.6 453.8 Z"/>
<path fill="#456fb5" stroke="#456fb5" stroke-width=".6" d="M151.9 459.7L148.8 456.7L145.9 453.5L158.0 443.5L160.5 446.2L163.1 448.8 Z"/>
<path fill="#456fb5" stroke="#456fb5" stroke-width=".6" d="M145.9 453.5L143.2 450.2L140.5 446.9L153.4 437.8L155.6 440.7L158.0 443.5 Z"/>
<path fill="#3e5aab" stroke="#3e5aab" stroke-width=".6" d="M140.5 446.9L138.1 443.4L135.7 439.8L149.2 431.8L151.2 434.8L153.4 437.8 Z"/>
<path fill="#3e5aab" stroke="#3e5aab" stroke-width=".6" d="M135.7 439.8L133.5 436.2L131.4 432.4L145.6 425.4L147.3 428.6L149.2 431.8 Z"/>
<path fill="#3e5aab" stroke="#3e5aab" stroke-width=".6" d="M131.4 432.4L129.5 428.6L127.8 424.8L142.4 418.9L143.9 422.2L145.6 425.4 Z"/>
<path fill="#3e5aab" stroke="#3e5aab" stroke-width=".6" d="M127.8 424.8L126.2 420.8L124.8 416.8L139.9 412.1L141.1 415.5L142.4 418.9 Z"/>
<path fill="#456fb5" stroke="#456fb5" stroke-width=".6" d="M124.8 416.8L123.5 412.8L122.4 408.7L137.8 405.1L138.8 408.6L139.9 412.1 Z"/>
<path fill="#456fb5" stroke="#456fb5" stroke-width=".6" d="M122.4 408.7L121.5 404.5L120.7 400.4L136.4 398.0L137.0 401.5L137.8 405.1 Z"/>
<path fill="#3e5aab" stroke="#3e5aab" stroke-width=".6" d="M120.7 400.4L120.1 396.2L119.7 392.0L135.5 390.7L135.9 394.4L136.4 398.0 Z"/>
<path fill="#456fb5" stroke="#456fb5" stroke-width=".6" d="M119.7 392.0L119.4 387.7L119.3 383.5L135.2 383.5L135.3 387.1L135.5 390.7 Z"/>
<path fill="#456fb5" stroke="#456fb5" stroke-width=".6" d="M119.3 383.5L119.4 379.3L119.7 375.0L135.5 376.3L135.3 379.9L135.2 383.5 Z"/>
<path fill="#5585c1" stroke="#5585c1" stroke-width=".6" d="M119.7 375.0L120.1 370.8L120.7 366.6L136.4 369.0L135.9 372.6L135.5 376.3 Z"/>
<path fill="#5585c1" stroke="#5585c1" stroke-width=".6" d="M120.7 366.6L121.5 362.5L122.4 358.3L137.8 361.9L137.0 365.5L136.4 369.0 Z"/>
<path fill="#456fb5" stroke="#456fb5" stroke-width=".6" d="M122.4 358.3L123.5 354.2L124.8 350.2L139.9 354.9L138.8 358.4L137.8 361.9 Z"/>
<path fill="#3e5aab" stroke="#3e5aab" stroke-width=".6" d="M124.8 350.2L126.2 346.2L127.8 342.2L142.4 348.1L141.1 351.5L139.9 354.9 Z"/>
<path fill="#3e5aab" stroke="#3e5aab" stroke-width=".6" d="M127.8 342.2L129.5 338.4L131.4 334.6L145.6 341.6L143.9 344.8L142.4 348.1 Z"/>
<path fill="#3e5aab" stroke="#3e5aab" stroke-width=".6" d="M131.4 334.6L133.5 330.8L135.7 327.2L149.2 335.2L147.3 338.4L145.6 341.6 Z"/>
<path fill="#456fb5" stroke="#456fb5" stroke-width=".6" d="M135.7 327.2L138.1 323.6L140.5 320.1L153.4 329.2L151.2 332.2L149.2 335.2 Z"/>
<path fill="#8abbdb" stroke="#8abbdb" stroke-width=".6" d="M140.5 320.1L143.2 316.8L145.9 313.5L158.0 323.5L155.6 326.3L153.4 329.2 Z"/>
<path fill="#a9d3e8" stroke="#a9d3e8" stroke-width=".6" d="M145.9 313.5L148.8 310.3L151.9 307.3L163.1 318.2L160.5 320.8L158.0 323.5 Z"/>
<path fill="#5585c1" stroke="#5585c1" stroke-width=".6" d="M151.9 307.3L155.0 304.3L158.3 301.5L168.6 313.2L165.8 315.6L163.1 318.2 Z"/>
<path fill="#456fb5" stroke="#456fb5" stroke-width=".6" d="M158.3 301.5L161.6 298.8L165.1 296.3L174.4 308.7L171.5 310.9L168.6 313.2 Z"/>
<path fill="#8abbdb" stroke="#8abbdb" stroke-width=".6" d="M165.1 296.3L168.7 293.9L172.4 291.6L180.7 304.7L177.5 306.7L174.4 308.7 Z"/>
<path fill="#456fb5" stroke="#456fb5" stroke-width=".6" d="M172.4 291.6L176.1 289.4L180.0 287.4L187.2 301.2L183.9 302.9L180.7 304.7 Z"/>
<path fill="#5585c1" stroke="#5585c1" stroke-width=".6" d="M180.0 287.4L183.9 285.6L187.9 283.9L194.0 298.1L190.5 299.6L187.2 301.2 Z"/>
<path fill="#a9d3e8" stroke="#a9d3e8" stroke-width=".6" d="M187.9 283.9L192.0 282.4L196.1 281.0L201.0 295.6L197.4 296.8L194.0 298.1 Z"/>
<path fill="#c4e3f0" stroke="#c4e3f0" stroke-width=".6" d="M196.1 281.0L200.3 279.7L204.5 278.7L208.2 293.7L204.6 294.6L201.0 295.6 Z"/>
<path fill="#6c9fce" stroke="#6c9fce" stroke-width=".6" d="M204.5 278.7L208.7 277.8L213.0 277.0L215.5 292.2L211.8 292.9L208.2 293.7 Z"/>
<path fill="#3e5aab" stroke="#3e5aab" stroke-width=".6" d="M213.0 277.0L217.3 276.4L221.7 276.0L222.9 291.4L219.2 291.7L215.5 292.2 Z"/>
<path fill="#5585c1" stroke="#5585c1" stroke-width=".6" d="M221.7 276.0L226.0 275.8L230.4 275.7L230.4 291.1L226.7 291.2L222.9 291.4 Z"/>
<path fill="#5585c1" stroke="#5585c1" stroke-width=".6" d="M230.4 260.3L235.4 260.4L240.4 260.7L239.1 276.0L234.8 275.8L230.4 275.7 Z"/>
<path fill="#5585c1" stroke="#5585c1" stroke-width=".6" d="M240.4 260.7L245.3 261.2L250.3 261.8L247.8 277.0L243.5 276.4L239.1 276.0 Z"/>
<path fill="#8abbdb" stroke="#8abbdb" stroke-width=".6" d="M250.3 261.8L255.2 262.7L260.0 263.7L256.3 278.7L252.1 277.8L247.8 277.0 Z"/>
<path fill="#6c9fce" stroke="#6c9fce" stroke-width=".6" d="M260.0 263.7L264.9 264.9L269.6 266.3L264.7 281.0L260.5 279.7L256.3 278.7 Z"/>
<path fill="#5585c1" stroke="#5585c1" stroke-width=".6" d="M269.6 266.3L274.3 267.9L279.0 269.7L272.9 283.9L268.8 282.4L264.7 281.0 Z"/>
<path fill="#8abbdb" stroke="#8abbdb" stroke-width=".6" d="M279.0 269.7L283.5 271.6L288.0 273.7L280.8 287.4L276.9 285.6L272.9 283.9 Z"/>
<path fill="#456fb5" stroke="#456fb5" stroke-width=".6" d="M288.0 273.7L292.4 276.0L296.7 278.5L288.4 291.6L284.7 289.4L280.8 287.4 Z"/>
<path fill="#6c9fce" stroke="#6c9fce" stroke-width=".6" d="M296.7 278.5L300.9 281.1L305.0 283.8L295.7 296.3L292.1 293.9L288.4 291.6 Z"/>
<path fill="#a9d3e8" stroke="#a9d3e8" stroke-width=".6" d="M305.0 283.8L309.0 286.7L312.8 289.8L302.5 301.5L299.2 298.8L295.7 296.3 Z"/>
<path fill="#c4e3f0" stroke="#c4e3f0" stroke-width=".6" d="M312.8 289.8L316.6 293.0L320.2 296.4L308.9 307.3L305.8 304.3L302.5 301.5 Z"/>
<path fill="#456fb5" stroke="#456fb5" stroke-width=".6" d="M320.2 296.4L323.6 299.9L326.9 303.5L314.9 313.5L312.0 310.3L308.9 307.3 Z"/>
<path fill="#5585c1" stroke="#5585c1" stroke-width=".6" d="M326.9 303.5L330.1 307.2L333.1 311.1L320.3 320.1L317.6 316.8L314.9 313.5 Z"/>
<path fill="#8abbdb" stroke="#8abbdb" stroke-width=".6" d="M333.1 311.1L335.9 315.1L338.6 319.1L325.1 327.2L322.7 323.6L320.3 320.1 Z"/>
<path fill="#8abbdb" stroke="#8abbdb" stroke-width=".6" d="M338.6 319.1L341.1 323.3L343.5 327.6L329.4 334.6L327.3 330.8L325.1 327.2 Z"/>
<path fill="#5585c1" stroke="#5585c1" stroke-width=".6" d="M343.5 327.6L345.7 331.9L347.7 336.4L333.0 342.2L331.3 338.4L329.4 334.6 Z"/>
<path fill="#5585c1" stroke="#5585c1" stroke-width=".6" d="M347.7 336.4L349.5 340.9L351.1 345.4L336.0 350.2L334.6 346.2L333.0 342.2 Z"/>
<path fill="#6c9fce" stroke="#6c9fce" stroke-width=".6" d="M351.1 345.4L352.6 350.1L353.8 354.7L338.4 358.3L337.3 354.2L336.0 350.2 Z"/>
<path fill="#5585c1" stroke="#5585c1" stroke-width=".6" d="M353.8 354.7L354.9 359.5L355.8 364.2L340.1 366.6L339.3 362.5L338.4 358.3 Z"/>
<path fill="#3a47a2" stroke="#3a47a2" stroke-width=".6" d="M355.8 364.2L356.5 369.0L356.9 373.8L341.1 375.0L340.7 370.8L340.1 366.6 Z"/>
<path fill="#5585c1" stroke="#5585c1" stroke-width=".6" d="M356.9 373.8L357.2 378.7L357.3 383.5L341.5 383.5L341.4 379.3L341.1 375.0 Z"/>
<path fill="#8abbdb" stroke="#8abbdb" stroke-width=".6" d="M357.3 383.5L357.2 388.3L356.9 393.2L341.1 392.0L341.4 387.7L341.5 383.5 Z"/>
<path fill="#8abbdb" stroke="#8abbdb" stroke-width=".6" d="M356.9 393.2L356.5 398.0L355.8 402.8L340.1 400.4L340.7 396.2L341.1 392.0 Z"/>
<path fill="#3e5aab" stroke="#3e5aab" stroke-width=".6" d="M355.8 402.8L354.9 407.5L353.8 412.3L338.4 408.7L339.3 404.5L340.1 400.4 Z"/>
<path fill="#3e5aab" stroke="#3e5aab" stroke-width=".6" d="M353.8 412.3L352.6 416.9L351.1 421.6L336.0 416.8L337.3 412.8L338.4 408.7 Z"/>
<path fill="#3e5aab" stroke="#3e5aab" stroke-width=".6" d="M351.1 421.6L349.5 426.1L347.7 430.6L333.0 424.8L334.6 420.8L336.0 416.8 Z"/>
<path fill="#3a47a2" stroke="#3a47a2" stroke-width=".6" d="M347.7 430.6L345.7 435.1L343.5 439.4L329.4 432.4L331.3 428.6L333.0 424.8 Z"/>
<path fill="#3a47a2" stroke="#3a47a2" stroke-width=".6" d="M343.5 439.4L341.1 443.7L338.6 447.9L325.1 439.8L327.3 436.2L329.4 432.4 Z"/>
<path fill="#3a47a2" stroke="#3a47a2" stroke-width=".6" d="M338.6 447.9L335.9 451.9L333.1 455.9L320.3 446.9L322.7 443.4L325.1 439.8 Z"/>
<path fill="#456fb5" stroke="#456fb5" stroke-width=".6" d="M333.1 455.9L330.1 459.8L326.9 463.5L314.9 453.5L317.6 450.2L320.3 446.9 Z"/>
<path fill="#6c9fce" stroke="#6c9fce" stroke-width=".6" d="M326.9 463.5L323.6 467.1L320.2 470.6L308.9 459.7L312.0 456.7L314.9 453.5 Z"/>
<path fill="#5585c1" stroke="#5585c1" stroke-width=".6" d="M320.2 470.6L316.6 474.0L312.8 477.2L302.5 465.5L305.8 462.7L308.9 459.7 Z"/>
<path fill="#456fb5" stroke="#456fb5" stroke-width=".6" d="M312.8 477.2L309.0 480.3L305.0 483.2L295.7 470.7L299.2 468.2L302.5 465.5 Z"/>
<path fill="#3e5aab" stroke="#3e5aab" stroke-width=".6" d="M305.0 483.2L300.9 485.9L296.7 488.5L288.4 475.4L292.1 473.1L295.7 470.7 Z"/>
<path fill="#3e5aab" stroke="#3e5aab" stroke-width=".6" d="M296.7 488.5L292.4 491.0L288.0 493.3L280.8 479.6L284.7 477.6L288.4 475.4 Z"/>
<path fill="#3e5aab" stroke="#3e5aab" stroke-width=".6" d="M288.0 493.3L283.5 495.4L279.0 497.3L272.9 483.1L276.9 481.4L280.8 479.6 Z"/>
<path fill="#456fb5" stroke="#456fb5" stroke-width=".6" d="M279.0 497.3L274.3 499.1L269.6 500.7L264.7 486.0L268.8 484.6L272.9 483.1 Z"/>
<path fill="#6c9fce" stroke="#6c9fce" stroke-width=".6" d="M269.6 500.7L264.9 502.1L260.0 503.3L256.3 488.3L260.5 487.3L264.7 486.0 Z"/>
<path fill="#6c9fce" stroke="#6c9fce" stroke-width=".6" d="M260.0 503.3L255.2 504.3L250.3 505.2L247.8 490.0L252.1 489.2L256.3 488.3 Z"/>
<path fill="#5585c1" stroke="#5585c1" stroke-width=".6" d="M250.3 505.2L245.3 505.8L240.4 506.3L239.1 491.0L243.5 490.6L247.8 490.0 Z"/>
<path fill="#5585c1" stroke="#5585c1" stroke-width=".6" d="M240.4 506.3L235.4 506.6L230.4 506.7L230.4 491.3L234.8 491.2L239.1 491.0 Z"/>
<path fill="#6c9fce" stroke="#6c9fce" stroke-width=".6" d="M230.4 506.7L225.4 506.6L220.4 506.3L221.7 491.0L226.0 491.2L230.4 491.3 Z"/>
<path fill="#3e5aab" stroke="#3e5aab" stroke-width=".6" d="M220.4 506.3L215.5 505.8L210.5 505.2L213.0 490.0L217.3 490.6L221.7 491.0 Z"/>
<path fill="#3a47a2" stroke="#3a47a2" stroke-width=".6" d="M210.5 505.2L205.6 504.3L200.8 503.3L204.5 488.3L208.7 489.2L213.0 490.0 Z"/>
<path fill="#3a47a2" stroke="#3a47a2" stroke-width=".6" d="M200.8 503.3L195.9 502.1L191.2 500.7L196.1 486.0L200.3 487.3L204.5 488.3 Z"/>
<path fill="#3e5aab" stroke="#3e5aab" stroke-width=".6" d="M191.2 500.7L186.5 499.1L181.8 497.3L187.9 483.1L192.0 484.6L196.1 486.0 Z"/>
<path fill="#6c9fce" stroke="#6c9fce" stroke-width=".6" d="M181.8 497.3L177.3 495.4L172.8 493.3L180.0 479.6L183.9 481.4L187.9 483.1 Z"/>
<path fill="#6c9fce" stroke="#6c9fce" stroke-width=".6" d="M172.8 493.3L168.4 491.0L164.1 488.5L172.4 475.4L176.1 477.6L180.0 479.6 Z"/>
<path fill="#456fb5" stroke="#456fb5" stroke-width=".6" d="M164.1 488.5L159.9 485.9L155.8 483.2L165.1 470.7L168.7 473.1L172.4 475.4 Z"/>
<path fill="#456fb5" stroke="#456fb5" stroke-width=".6" d="M155.8 483.2L151.8 480.3L148.0 477.2L158.3 465.5L161.6 468.2L165.1 470.7 Z"/>
<path fill="#5585c1" stroke="#5585c1" stroke-width=".6" d="M148.0 477.2L144.2 474.0L140.6 470.6L151.9 459.7L155.0 462.7L158.3 465.5 Z"/>
<path fill="#6c9fce" stroke="#6c9fce" stroke-width=".6" d="M140.6 470.6L137.2 467.1L133.9 463.5L145.9 453.5L148.8 456.7L151.9 459.7 Z"/>
<path fill="#5585c1" stroke="#5585c1" stroke-width=".6" d="M133.9 463.5L130.7 459.8L127.7 455.9L140.5 446.9L143.2 450.2L145.9 453.5 Z"/>
<path fill="#5585c1" stroke="#5585c1" stroke-width=".6" d="M127.7 455.9L124.9 451.9L122.2 447.9L135.7 439.8L138.1 443.4L140.5 446.9 Z"/>
<path fill="#6c9fce" stroke="#6c9fce" stroke-width=".6" d="M122.2 447.9L119.7 443.7L117.3 439.4L131.4 432.4L133.5 436.2L135.7 439.8 Z"/>
<path fill="#5585c1" stroke="#5585c1" stroke-width=".6" d="M117.3 439.4L115.1 435.1L113.1 430.6L127.8 424.8L129.5 428.6L131.4 432.4 Z"/>
<path fill="#3e5aab" stroke="#3e5aab" stroke-width=".6" d="M113.1 430.6L111.3 426.1L109.7 421.6L124.8 416.8L126.2 420.8L127.8 424.8 Z"/>
<path fill="#3e5aab" stroke="#3e5aab" stroke-width=".6" d="M109.7 421.6L108.2 416.9L107.0 412.3L122.4 408.7L123.5 412.8L124.8 416.8 Z"/>
<path fill="#3e5aab" stroke="#3e5aab" stroke-width=".6" d="M107.0 412.3L105.9 407.5L105.0 402.8L120.7 400.4L121.5 404.5L122.4 408.7 Z"/>
<path fill="#3e5aab" stroke="#3e5aab" stroke-width=".6" d="M105.0 402.8L104.3 398.0L103.9 393.2L119.7 392.0L120.1 396.2L120.7 400.4 Z"/>
<path fill="#3e5aab" stroke="#3e5aab" stroke-width=".6" d="M103.9 393.2L103.6 388.3L103.5 383.5L119.3 383.5L119.4 387.7L119.7 392.0 Z"/>
<path fill="#5585c1" stroke="#5585c1" stroke-width=".6" d="M103.5 383.5L103.6 378.7L103.9 373.8L119.7 375.0L119.4 379.3L119.3 383.5 Z"/>
<path fill="#6c9fce" stroke="#6c9fce" stroke-width=".6" d="M103.9 373.8L104.3 369.0L105.0 364.2L120.7 366.6L120.1 370.8L119.7 375.0 Z"/>
<path fill="#5585c1" stroke="#5585c1" stroke-width=".6" d="M105.0 364.2L105.9 359.5L107.0 354.7L122.4 358.3L121.5 362.5L120.7 366.6 Z"/>
<path fill="#456fb5" stroke="#456fb5" stroke-width=".6" d="M107.0 354.7L108.2 350.1L109.7 345.4L124.8 350.2L123.5 354.2L122.4 358.3 Z"/>
<path fill="#3e5aab" stroke="#3e5aab" stroke-width=".6" d="M109.7 345.4L111.3 340.9L113.1 336.4L127.8 342.2L126.2 346.2L124.8 350.2 Z"/>
<path fill="#3e5aab" stroke="#3e5aab" stroke-width=".6" d="M113.1 336.4L115.1 331.9L117.3 327.6L131.4 334.6L129.5 338.4L127.8 342.2 Z"/>
<path fill="#3e5aab" stroke="#3e5aab" stroke-width=".6" d="M117.3 327.6L119.7 323.3L122.2 319.1L135.7 327.2L133.5 330.8L131.4 334.6 Z"/>
<path fill="#456fb5" stroke="#456fb5" stroke-width=".6" d="M122.2 319.1L124.9 315.1L127.7 311.1L140.5 320.1L138.1 323.6L135.7 327.2 Z"/>
<path fill="#a9d3e8" stroke="#a9d3e8" stroke-width=".6" d="M127.7 311.1L130.7 307.2L133.9 303.5L145.9 313.5L143.2 316.8L140.5 320.1 Z"/>
<path fill="#c4e3f0" stroke="#c4e3f0" stroke-width=".6" d="M133.9 303.5L137.2 299.9L140.6 296.4L151.9 307.3L148.8 310.3L145.9 313.5 Z"/>
<path fill="#6c9fce" stroke="#6c9fce" stroke-width=".6" d="M140.6 296.4L144.2 293.0L148.0 289.8L158.3 301.5L155.0 304.3L151.9 307.3 Z"/>
<path fill="#456fb5" stroke="#456fb5" stroke-width=".6" d="M148.0 289.8L151.8 286.7L155.8 283.8L165.1 296.3L161.6 298.8L158.3 301.5 Z"/>
<path fill="#456fb5" stroke="#456fb5" stroke-width=".6" d="M155.8 283.8L159.9 281.1L164.1 278.5L172.4 291.6L168.7 293.9L165.1 296.3 Z"/>
<path fill="#456fb5" stroke="#456fb5" stroke-width=".6" d="M164.1 278.5L168.4 276.0L172.8 273.7L180.0 287.4L176.1 289.4L172.4 291.6 Z"/>
<path fill="#6c9fce" stroke="#6c9fce" stroke-width=".6" d="M172.8 273.7L177.3 271.6L181.8 269.7L187.9 283.9L183.9 285.6L180.0 287.4 Z"/>
<path fill="#a9d3e8" stroke="#a9d3e8" stroke-width=".6" d="M181.8 269.7L186.5 267.9L191.2 266.3L196.1 281.0L192.0 282.4L187.9 283.9 Z"/>
<path fill="#c4e3f0" stroke="#c4e3f0" stroke-width=".6" d="M191.2 266.3L195.9 264.9L200.8 263.7L204.5 278.7L200.3 279.7L196.1 281.0 Z"/>
<path fill="#a9d3e8" stroke="#a9d3e8" stroke-width=".6" d="M200.8 263.7L205.6 262.7L210.5 261.8L213.0 277.0L208.7 277.8L204.5 278.7 Z"/>
<path fill="#3e5aab" stroke="#3e5aab" stroke-width=".6" d="M210.5 261.8L215.5 261.2L220.4 260.7L221.7 276.0L217.3 276.4L213.0 277.0 Z"/>
<path fill="#5585c1" stroke="#5585c1" stroke-width=".6" d="M220.4 260.7L225.4 260.4L230.4 260.3L230.4 275.7L226.0 275.8L221.7 276.0 Z"/>
<path fill="#5585c1" stroke="#5585c1" stroke-width=".6" d="M230.4 242.1L236.1 242.2L241.8 242.6L240.4 260.7L235.4 260.4L230.4 260.3 Z"/>
<path fill="#5585c1" stroke="#5585c1" stroke-width=".6" d="M241.8 242.6L247.5 243.1L253.2 243.9L250.3 261.8L245.3 261.2L240.4 260.7 Z"/>
<path fill="#8abbdb" stroke="#8abbdb" stroke-width=".6" d="M253.2 243.9L258.8 244.8L264.4 246.0L260.0 263.7L255.2 262.7L250.3 261.8 Z"/>
<path fill="#6c9fce" stroke="#6c9fce" stroke-width=".6" d="M264.4 246.0L269.9 247.4L275.4 249.0L269.6 266.3L264.9 264.9L260.0 263.7 Z"/>
<path fill="#6c9fce" stroke="#6c9fce" stroke-width=".6" d="M275.4 249.0L280.8 250.9L286.1 252.9L279.0 269.7L274.3 267.9L269.6 266.3 Z"/>
<path fill="#8abbdb" stroke="#8abbdb" stroke-width=".6" d="M286.1 252.9L291.4 255.1L296.5 257.5L288.0 273.7L283.5 271.6L279.0 269.7 Z"/>
<path fill="#456fb5" stroke="#456fb5" stroke-width=".6" d="M296.5 257.5L301.6 260.2L306.5 263.0L296.7 278.5L292.4 276.0L288.0 273.7 Z"/>
<path fill="#6c9fce" stroke="#6c9fce" stroke-width=".6" d="M306.5 263.0L311.3 266.0L316.0 269.1L305.0 283.8L300.9 281.1L296.7 278.5 Z"/>
<path fill="#c4e3f0" stroke="#c4e3f0" stroke-width=".6" d="M316.0 269.1L320.6 272.5L325.0 276.0L312.8 289.8L309.0 286.7L305.0 283.8 Z"/>
<path fill="#dcf0f7" stroke="#dcf0f7" stroke-width=".6" d="M325.0 276.0L329.3 279.7L333.4 283.5L320.2 296.4L316.6 293.0L312.8 289.8 Z"/>
<path fill="#456fb5" stroke="#456fb5" stroke-width=".6" d="M333.4 283.5L337.4 287.5L341.2 291.7L326.9 303.5L323.6 299.9L320.2 296.4 Z"/>
<path fill="#5585c1" stroke="#5585c1" stroke-width=".6" d="M341.2 291.7L344.8 296.0L348.2 300.4L333.1 311.1L330.1 307.2L326.9 303.5 Z"/>
<path fill="#8abbdb" stroke="#8abbdb" stroke-width=".6" d="M348.2 300.4L351.5 305.0L354.6 309.6L338.6 319.1L335.9 315.1L333.1 311.1 Z"/>
<path fill="#8abbdb" stroke="#8abbdb" stroke-width=".6" d="M354.6 309.6L357.5 314.4L360.2 319.3L343.5 327.6L341.1 323.3L338.6 319.1 Z"/>
<path fill="#6c9fce" stroke="#6c9fce" stroke-width=".6" d="M360.2 319.3L362.7 324.3L365.0 329.4L347.7 336.4L345.7 331.9L343.5 327.6 Z"/>
<path fill="#5585c1" stroke="#5585c1" stroke-width=".6" d="M365.0 329.4L367.1 334.6L368.9 339.8L351.1 345.4L349.5 340.9L347.7 336.4 Z"/>
<path fill="#5585c1" stroke="#5585c1" stroke-width=".6" d="M368.9 339.8L370.6 345.1L372.0 350.5L353.8 354.7L352.6 350.1L351.1 345.4 Z"/>
<path fill="#456fb5" stroke="#456fb5" stroke-width=".6" d="M372.0 350.5L373.3 355.9L374.3 361.4L355.8 364.2L354.9 359.5L353.8 354.7 Z"/>
<path fill="#3e5aab" stroke="#3e5aab" stroke-width=".6" d="M374.3 361.4L375.0 366.9L375.6 372.4L356.9 373.8L356.5 369.0L355.8 364.2 Z"/>
<path fill="#5585c1" stroke="#5585c1" stroke-width=".6" d="M375.6 372.4L375.9 377.9L376.1 383.5L357.3 383.5L357.2 378.7L356.9 373.8 Z"/>
<path fill="#a9d3e8" stroke="#a9d3e8" stroke-width=".6" d="M376.1 383.5L375.9 389.1L375.6 394.6L356.9 393.2L357.2 388.3L357.3 383.5 Z"/>
<path fill="#8abbdb" stroke="#8abbdb" stroke-width=".6" d="M375.6 394.6L375.0 400.1L374.3 405.6L355.8 402.8L356.5 398.0L356.9 393.2 Z"/>
<path fill="#3e5aab" stroke="#3e5aab" stroke-width=".6" d="M374.3 405.6L373.3 411.1L372.0 416.5L353.8 412.3L354.9 407.5L355.8 402.8 Z"/>
<path fill="#3e5aab" stroke="#3e5aab" stroke-width=".6" d="M372.0 416.5L370.6 421.9L368.9 427.2L351.1 421.6L352.6 416.9L353.8 412.3 Z"/>
<path fill="#3e5aab" stroke="#3e5aab" stroke-width=".6" d="M368.9 427.2L367.1 432.4L365.0 437.6L347.7 430.6L349.5 426.1L351.1 421.6 Z"/>
<path fill="#3a47a2" stroke="#3a47a2" stroke-width=".6" d="M365.0 437.6L362.7 442.7L360.2 447.7L343.5 439.4L345.7 435.1L347.7 430.6 Z"/>
<path fill="#3a47a2" stroke="#3a47a2" stroke-width=".6" d="M360.2 447.7L357.5 452.6L354.6 457.4L338.6 447.9L341.1 443.7L343.5 439.4 Z"/>
<path fill="#3e5aab" stroke="#3e5aab" stroke-width=".6" d="M354.6 457.4L351.5 462.0L348.2 466.6L333.1 455.9L335.9 451.9L338.6 447.9 Z"/>
<path fill="#5585c1" stroke="#5585c1" stroke-width=".6" d="M348.2 466.6L344.8 471.0L341.2 475.3L326.9 463.5L330.1 459.8L333.1 455.9 Z"/>
<path fill="#5585c1" stroke="#5585c1" stroke-width=".6" d="M341.2 475.3L337.4 479.5L333.4 483.5L320.2 470.6L323.6 467.1L326.9 463.5 Z"/>
<path fill="#5585c1" stroke="#5585c1" stroke-width=".6" d="M333.4 483.5L329.3 487.3L325.0 491.0L312.8 477.2L316.6 474.0L320.2 470.6 Z"/>
<path fill="#456fb5" stroke="#456fb5" stroke-width=".6" d="M325.0 491.0L320.6 494.5L316.0 497.9L305.0 483.2L309.0 480.3L312.8 477.2 Z"/>
<path fill="#3e5aab" stroke="#3e5aab" stroke-width=".6" d="M316.0 497.9L311.3 501.0L306.5 504.0L296.7 488.5L300.9 485.9L305.0 483.2 Z"/>
<path fill="#3e5aab" stroke="#3e5aab" stroke-width=".6" d="M306.5 504.0L301.6 506.8L296.5 509.5L288.0 493.3L292.4 491.0L296.7 488.5 Z"/>
<path fill="#456fb5" stroke="#456fb5" stroke-width=".6" d="M296.5 509.5L291.4 511.9L286.1 514.1L279.0 497.3L283.5 495.4L288.0 493.3 Z"/>
<path fill="#6c9fce" stroke="#6c9fce" stroke-width=".6" d="M286.1 514.1L280.8 516.1L275.4 518.0L269.6 500.7L274.3 499.1L279.0 497.3 Z"/>
<path fill="#6c9fce" stroke="#6c9fce" stroke-width=".6" d="M275.4 518.0L269.9 519.6L264.4 521.0L260.0 503.3L264.9 502.1L269.6 500.7 Z"/>
<path fill="#6c9fce" stroke="#6c9fce" stroke-width=".6" d="M264.4 521.0L258.8 522.2L253.2 523.1L250.3 505.2L255.2 504.3L260.0 503.3 Z"/>
<path fill="#5585c1" stroke="#5585c1" stroke-width=".6" d="M253.2 523.1L247.5 523.9L241.8 524.4L240.4 506.3L245.3 505.8L250.3 505.2 Z"/>
<path fill="#5585c1" stroke="#5585c1" stroke-width=".6" d="M241.8 524.4L236.1 524.8L230.4 524.9L230.4 506.7L235.4 506.6L240.4 506.3 Z"/>
<path fill="#5585c1" stroke="#5585c1" stroke-width=".6" d="M230.4 524.9L224.7 524.8L219.0 524.4L220.4 506.3L225.4 506.6L230.4 506.7 Z"/>
<path fill="#3e5aab" stroke="#3e5aab" stroke-width=".6" d="M219.0 524.4L213.3 523.9L207.6 523.1L210.5 505.2L215.5 505.8L220.4 506.3 Z"/>
<path fill="#3a47a2" stroke="#3a47a2" stroke-width=".6" d="M207.6 523.1L202.0 522.2L196.4 521.0L200.8 503.3L205.6 504.3L210.5 505.2 Z"/>
<path fill="#3a47a2" stroke="#3a47a2" stroke-width=".6" d="M196.4 521.0L190.9 519.6L185.4 518.0L191.2 500.7L195.9 502.1L200.8 503.3 Z"/>
<path fill="#456fb5" stroke="#456fb5" stroke-width=".6" d="M185.4 518.0L180.0 516.1L174.7 514.1L181.8 497.3L186.5 499.1L191.2 500.7 Z"/>
<path fill="#8abbdb" stroke="#8abbdb" stroke-width=".6" d="M174.7 514.1L169.4 511.9L164.3 509.5L172.8 493.3L177.3 495.4L181.8 497.3 Z"/>
<path fill="#8abbdb" stroke="#8abbdb" stroke-width=".6" d="M164.3 509.5L159.2 506.8L154.3 504.0L164.1 488.5L168.4 491.0L172.8 493.3 Z"/>
<path fill="#456fb5" stroke="#456fb5" stroke-width=".6" d="M154.3 504.0L149.5 501.0L144.8 497.9L155.8 483.2L159.9 485.9L164.1 488.5 Z"/>
<path fill="#456fb5" stroke="#456fb5" stroke-width=".6" d="M144.8 497.9L140.2 494.5L135.8 491.0L148.0 477.2L151.8 480.3L155.8 483.2 Z"/>
<path fill="#6c9fce" stroke="#6c9fce" stroke-width=".6" d="M135.8 491.0L131.5 487.3L127.4 483.5L140.6 470.6L144.2 474.0L148.0 477.2 Z"/>
<path fill="#6c9fce" stroke="#6c9fce" stroke-width=".6" d="M127.4 483.5L123.4 479.5L119.6 475.3L133.9 463.5L137.2 467.1L140.6 470.6 Z"/>
<path fill="#5585c1" stroke="#5585c1" stroke-width=".6" d="M119.6 475.3L116.0 471.0L112.6 466.6L127.7 455.9L130.7 459.8L133.9 463.5 Z"/>
<path fill="#6c9fce" stroke="#6c9fce" stroke-width=".6" d="M112.6 466.6L109.3 462.0L106.2 457.4L122.2 447.9L124.9 451.9L127.7 455.9 Z"/>
<path fill="#6c9fce" stroke="#6c9fce" stroke-width=".6" d="M106.2 457.4L103.3 452.6L100.6 447.7L117.3 439.4L119.7 443.7L122.2 447.9 Z"/>
<path fill="#6c9fce" stroke="#6c9fce" stroke-width=".6" d="M100.6 447.7L98.1 442.7L95.8 437.6L113.1 430.6L115.1 435.1L117.3 439.4 Z"/>
<path fill="#456fb5" stroke="#456fb5" stroke-width=".6" d="M95.8 437.6L93.7 432.4L91.9 427.2L109.7 421.6L111.3 426.1L113.1 430.6 Z"/>
<path fill="#5585c1" stroke="#5585c1" stroke-width=".6" d="M91.9 427.2L90.2 421.9L88.8 416.5L107.0 412.3L108.2 416.9L109.7 421.6 Z"/>
<path fill="#456fb5" stroke="#456fb5" stroke-width=".6" d="M88.8 416.5L87.5 411.1L86.5 405.6L105.0 402.8L105.9 407.5L107.0 412.3 Z"/>
<path fill="#3e5aab" stroke="#3e5aab" stroke-width=".6" d="M86.5 405.6L85.8 400.1L85.2 394.6L103.9 393.2L104.3 398.0L105.0 402.8 Z"/>
<path fill="#3e5aab" stroke="#3e5aab" stroke-width=".6" d="M85.2 394.6L84.9 389.1L84.7 383.5L103.5 383.5L103.6 388.3L103.9 393.2 Z"/>
<path fill="#5585c1" stroke="#5585c1" stroke-width=".6" d="M84.7 383.5L84.9 377.9L85.2 372.4L103.9 373.8L103.6 378.7L103.5 383.5 Z"/>
<path fill="#6c9fce" stroke="#6c9fce" stroke-width=".6" d="M85.2 372.4L85.8 366.9L86.5 361.4L105.0 364.2L104.3 369.0L103.9 373.8 Z"/>
<path fill="#5585c1" stroke="#5585c1" stroke-width=".6" d="M86.5 361.4L87.5 355.9L88.8 350.5L107.0 354.7L105.9 359.5L105.0 364.2 Z"/>
<path fill="#5585c1" stroke="#5585c1" stroke-width=".6" d="M88.8 350.5L90.2 345.1L91.9 339.8L109.7 345.4L108.2 350.1L107.0 354.7 Z"/>
<path fill="#3e5aab" stroke="#3e5aab" stroke-width=".6" d="M91.9 339.8L93.7 334.6L95.8 329.4L113.1 336.4L111.3 340.9L109.7 345.4 Z"/>
<path fill="#3e5aab" stroke="#3e5aab" stroke-width=".6" d="M95.8 329.4L98.1 324.3L100.6 319.3L117.3 327.6L115.1 331.9L113.1 336.4 Z"/>
<path fill="#456fb5" stroke="#456fb5" stroke-width=".6" d="M100.6 319.3L103.3 314.4L106.2 309.6L122.2 319.1L119.7 323.3L117.3 327.6 Z"/>
<path fill="#a9d3e8" stroke="#a9d3e8" stroke-width=".6" d="M106.2 309.6L109.3 305.0L112.6 300.4L127.7 311.1L124.9 315.1L122.2 319.1 Z"/>
<path fill="#c4e3f0" stroke="#c4e3f0" stroke-width=".6" d="M112.6 300.4L116.0 296.0L119.6 291.7L133.9 303.5L130.7 307.2L127.7 311.1 Z"/>
<path fill="#c4e3f0" stroke="#c4e3f0" stroke-width=".6" d="M119.6 291.7L123.4 287.5L127.4 283.5L140.6 296.4L137.2 299.9L133.9 303.5 Z"/>
<path fill="#5585c1" stroke="#5585c1" stroke-width=".6" d="M127.4 283.5L131.5 279.7L135.8 276.0L148.0 289.8L144.2 293.0L140.6 296.4 Z"/>
<path fill="#456fb5" stroke="#456fb5" stroke-width=".6" d="M135.8 276.0L140.2 272.5L144.8 269.1L155.8 283.8L151.8 286.7L148.0 289.8 Z"/>
<path fill="#5585c1" stroke="#5585c1" stroke-width=".6" d="M144.8 269.1L149.5 266.0L154.3 263.0L164.1 278.5L159.9 281.1L155.8 283.8 Z"/>
<path fill="#3e5aab" stroke="#3e5aab" stroke-width=".6" d="M154.3 263.0L159.2 260.2L164.3 257.5L172.8 273.7L168.4 276.0L164.1 278.5 Z"/>
<path fill="#6c9fce" stroke="#6c9fce" stroke-width=".6" d="M164.3 257.5L169.4 255.1L174.7 252.9L181.8 269.7L177.3 271.6L172.8 273.7 Z"/>
<path fill="#a9d3e8" stroke="#a9d3e8" stroke-width=".6" d="M174.7 252.9L180.0 250.9L185.4 249.0L191.2 266.3L186.5 267.9L181.8 269.7 Z"/>
<path fill="#8abbdb" stroke="#8abbdb" stroke-width=".6" d="M185.4 249.0L190.9 247.4L196.4 246.0L200.8 263.7L195.9 264.9L191.2 266.3 Z"/>
<path fill="#6c9fce" stroke="#6c9fce" stroke-width=".6" d="M196.4 246.0L202.0 244.8L207.6 243.9L210.5 261.8L205.6 262.7L200.8 263.7 Z"/>
<path fill="#3e5aab" stroke="#3e5aab" stroke-width=".6" d="M207.6 243.9L213.3 243.1L219.0 242.6L220.4 260.7L215.5 261.2L210.5 261.8 Z"/>
<path fill="#5585c1" stroke="#5585c1" stroke-width=".6" d="M219.0 242.6L224.7 242.2L230.4 242.1L230.4 260.3L225.4 260.4L220.4 260.7 Z"/>
</g>
<g class="ax" shape-rendering="crispEdges">
<ellipse cx="230.4" cy="383.5" rx="47.6" ry="46.2"/>
<ellipse cx="230.4" cy="383.5" rx="95.2" ry="92.4"/>
<ellipse cx="230.4" cy="383.5" rx="142.8" ry="138.6"/>
<path d="M230.4 244.9L230.4 522.1"/>
<path d="M331.4 285.5L129.4 481.5"/>
<path d="M373.2 383.5L87.6 383.5"/>
<path d="M331.4 481.5L129.4 285.5"/>
</g>
<path d="M230.4 383.5L358.5 439.8" stroke="#ff9500" stroke-width="1" fill="none" shape-rendering="crispEdges"/>
<path d="M355 451.5L362.3 438.2" stroke="#ffa500" stroke-width="6.5" stroke-linecap="round" fill="none"/>
<g class="sat">
<path d="M229.0 252.5h7M232.5 249.0v7M208.0 259.5h7M211.5 256.0v7M171.0 272.5h7M174.5 269.0v7M192.0 272.5h7M195.5 269.0v7M195.0 272.5h7M198.5 269.0v7M163.0 279.5h7M166.5 276.0v7M239.0 270.5h7M242.5 267.0v7M264.0 276.5h7M267.5 273.0v7M188.0 295.5h7M191.5 292.0v7M229.0 292.5h7M232.5 289.0v7M219.0 301.5h7M222.5 298.0v7M143.0 301.5h7M146.5 298.0v7M192.0 314.5h7M195.5 311.0v7M205.0 323.5h7M208.5 320.0v7M213.0 318.5h7M216.5 315.0v7M209.0 322.5h7M212.5 319.0v7M242.0 315.5h7M245.5 312.0v7M243.0 317.5h7M246.5 314.0v7M280.0 314.5h7M283.5 311.0v7M313.0 316.5h7M316.5 313.0v7M315.0 315.5h7M318.5 312.0v7M254.0 333.5h7M257.5 330.0v7M147.0 327.5h7M150.5 324.0v7M169.0 326.5h7M172.5 323.0v7M179.0 328.5h7M182.5 325.0v7M130.0 332.5h7M133.5 329.0v7M149.0 336.5h7M152.5 333.0v7M124.0 346.5h7M127.5 343.0v7M114.0 352.5h7M117.5 349.0v7M111.0 351.5h7M114.5 348.0v7M123.0 364.5h7M126.5 361.0v7M99.0 369.5h7M102.5 366.0v7M107.0 368.5h7M110.5 365.0v7M149.0 373.5h7M152.5 370.0v7M166.0 380.5h7M169.5 377.0v7M168.0 387.5h7M171.5 384.0v7M302.0 347.5h7M305.5 344.0v7M329.0 355.5h7M332.5 352.0v7M353.0 345.5h7M356.5 342.0v7M351.0 355.5h7M354.5 352.0v7M355.0 358.5h7M358.5 355.0v7M230.0 383.5h7M233.5 380.0v7M294.0 386.5h7M297.5 383.0v7M99.0 397.5h7M102.5 394.0v7M112.0 400.5h7M115.5 397.0v7M125.0 409.5h7M128.5 406.0v7M125.0 419.5h7M128.5 416.0v7M146.0 419.5h7M149.5 416.0v7M165.0 402.5h7M168.5 399.0v7M192.0 401.5h7M195.5 398.0v7M243.0 400.5h7M246.5 397.0v7M239.0 412.5h7M242.5 409.0v7M347.0 404.5h7M350.5 401.0v7M213.0 425.5h7M216.5 422.0v7M137.0 432.5h7M140.5 429.0v7M161.0 432.5h7M164.5 429.0v7M170.0 432.5h7M173.5 429.0v7M184.0 432.5h7M187.5 429.0v7M194.0 438.5h7M197.5 435.0v7M276.0 419.5h7M279.5 416.0v7M311.0 418.5h7M314.5 415.0v7M325.0 414.5h7M328.5 411.0v7M321.0 420.5h7M324.5 417.0v7M301.0 429.5h7M304.5 426.0v7M281.0 446.5h7M284.5 443.0v7M323.0 454.5h7M326.5 451.0v7M306.0 466.5h7M309.5 463.0v7M128.0 446.5h7M131.5 443.0v7M155.0 454.5h7M158.5 451.0v7M162.0 451.5h7M165.5 448.0v7M144.0 465.5h7M147.5 462.0v7M146.0 489.5h7M149.5 486.0v7M169.0 492.5h7M172.5 489.0v7M284.0 502.5h7M287.5 499.0v7M276.0 508.5h7M279.5 505.0v7" stroke="#00ff00" stroke-width="1" fill="none" shape-rendering="crispEdges"/>
<text x="233.6" y="242.7">R27</text>
<text x="212.1" y="250.5">J195</text>
<text x="174.8" y="263.5">E34</text>
<text x="196.5" y="263.5">C40</text>
<text x="199.7" y="262.9">G10</text>
<text x="167.8" y="270.0">C07</text>
<text x="243.8" y="260.7">C30</text>
<text x="268.6" y="266.8">G09</text>
<text x="192.6" y="286.3">C20</text>
<text x="233.6" y="283.7">E02</text>
<text x="223.8" y="292.2">G17</text>
<text x="147.5" y="291.9">C38</text>
<text x="196.5" y="305.7">R07</text>
<text x="209.2" y="313.9">J196</text>
<text x="217.6" y="309.7">G31</text>
<text x="213.3" y="312.7">J188</text>
<text x="246.6" y="306.5">G04</text>
<text x="247.8" y="308.2">C02</text>
<text x="284.7" y="305.6">J193</text>
<text x="317.8" y="306.7">R20</text>
<text x="319.3" y="306.2">R26</text>
<text x="258.1" y="323.8">E25</text>
<text x="151.3" y="318.2">E27</text>
<text x="172.9" y="316.7">D48</text>
<text x="183.8" y="319.4">J189</text>
<text x="134.6" y="322.7">C08</text>
<text x="152.8" y="327.6">C03</text>
<text x="127.9" y="336.7">G15</text>
<text x="118.2" y="343.1">J200</text>
<text x="115.8" y="342.2">J206</text>
<text x="126.8" y="355.3">E15</text>
<text x="103.6" y="360.4">C60</text>
<text x="111.8" y="359.5">G02</text>
<text x="153.7" y="364.1">C19</text>
<text x="170.2" y="371.4">G22</text>
<text x="172.3" y="377.8">R26</text>
<text x="306.6" y="337.9">C27</text>
<text x="332.8" y="346.6">C12</text>
<text x="357.3" y="336.2">G01</text>
<text x="355.2" y="346.6">E08</text>
<text x="359.8" y="349.7">E06</text>
<text x="234.7" y="374.6">C58</text>
<text x="297.9" y="376.8">G07</text>
<text x="103.1" y="387.8">G05</text>
<text x="116.4" y="391.4">R11</text>
<text x="129.1" y="400.5">C36</text>
<text x="129.1" y="410.0">C59</text>
<text x="150.1" y="410.6">E03</text>
<text x="169.8" y="393.6">R08</text>
<text x="196.6" y="392.3">G14</text>
<text x="247.3" y="390.7">E05</text>
<text x="243.6" y="402.7">G30</text>
<text x="351.6" y="394.7">G02</text>
<text x="217.8" y="416.5">C46</text>
<text x="141.0" y="423.7">C06</text>
<text x="164.9" y="423.2">C01</text>
<text x="174.5" y="423.2">E09</text>
<text x="188.3" y="423.2">C39</text>
<text x="197.9" y="429.7">R10</text>
<text x="280.6" y="410.5">E16</text>
<text x="315.2" y="409.6">C32</text>
<text x="328.9" y="405.4">R19</text>
<text x="324.9" y="411.4">G26</text>
<text x="305.6" y="420.5">E24</text>
<text x="285.5" y="437.3">R09</text>
<text x="327.4" y="445.7">C49</text>
<text x="310.7" y="457.3">G08</text>
<text x="131.9" y="437.5">E13</text>
<text x="159.3" y="444.7">G21</text>
<text x="166.6" y="442.2">G25</text>
<text x="148.6" y="456.2">C22</text>
<text x="150.7" y="479.8">G15</text>
<text x="173.6" y="482.8">R01</text>
<text x="288.7" y="493.6">R18</text>
<text x="280.6" y="498.7">E31</text>
</g>
</g>
<g id="wf">
<text x="720" y="195" text-anchor="middle">Waterfall Plot</text>
<g class="ax" shape-rendering="crispEdges">
<path class="cr" d="M511.5 302V461.5M511 302.5h8M511 329.5h8M511 355.5h8M511 382.5h8M511 408.5h8M511 434.5h8M511 461.5h8"/>
<path d="M511.0 461.0L777.6 507.0L933.5 428.0L775.4 401.2M511.0 461.0L618 407M511.0 461.0l7.1 -3.6M555.4 468.7l2.7 -1.4M599.9 476.3l7.1 -3.6M644.3 484.0l2.7 -1.4M800.2 405.0l-2.7 1.4M688.7 491.7l7.1 -3.6M844.6 412.7l-7.1 3.6M733.2 499.3l2.7 -1.4M889.1 420.3l-2.7 1.4M777.6 507.0l7.1 -3.6M933.5 428.0l-7.1 3.6M777.6 507.0l-7.9 -1.4M511.0 461.0l7.9 1.4M799.9 495.7l-7.9 -1.4M533.3 449.7l7.9 1.4M822.1 484.4l-7.9 -1.4M555.5 438.4l7.9 1.4M844.4 473.1l-7.9 -1.4M577.8 427.1l7.9 1.4M866.7 461.9l-7.9 -1.4M600.1 415.9l7.9 1.4M889.0 450.6l-7.9 -1.4M911.2 439.3l-7.9 -1.4M933.5 428.0l-7.9 -1.4"/>
</g>
<text x="496" y="306.3" text-anchor="end">0</text>
<text x="496" y="332.7" text-anchor="end">-20</text>
<text x="496" y="359.1" text-anchor="end">-40</text>
<text x="496" y="385.5" text-anchor="end">-60</text>
<text x="496" y="411.9" text-anchor="end">-80</text>
<text x="496" y="438.3" text-anchor="end">-100</text>
<text x="496" y="464.7" text-anchor="end">-120</text>
<text transform="translate(436.7,382) rotate(-90)" text-anchor="middle">PSD (dBm)</text>
<text x="503.5" y="472.0" text-anchor="middle">10:46:40</text>
<text x="592.4" y="487.3" text-anchor="middle">10:47:00</text>
<text x="681.2" y="502.7" text-anchor="middle">10:47:20</text>
<text x="770.1" y="518.0" text-anchor="middle">10:47:40</text>
<text transform="translate(597,511.3) rotate(9.8)" text-anchor="middle">Time (UTC)</text>
<text x="815.2" y="514.0" text-anchor="middle">1560</text>
<text x="837.5" y="502.7" text-anchor="middle">1565</text>
<text x="859.7" y="491.4" text-anchor="middle">1570</text>
<text x="882.0" y="480.1" text-anchor="middle">1575</text>
<text x="904.3" y="468.9" text-anchor="middle">1580</text>
<text x="926.6" y="457.6" text-anchor="middle">1585</text>
<text x="948.8" y="446.3" text-anchor="middle">1590</text>
<text x="971.1" y="435.0" text-anchor="middle">1595</text>
<text transform="translate(932.3,484) rotate(-27)" text-anchor="middle">Frequency (MHz)</text>
<defs>
<clipPath id="wfc"><path d="M621.5 390.0L621.8 387.2L622.1 384.4L622.4 383.6L622.8 384.7L623.1 383.3L623.4 381.8L623.7 380.8L624.6 379.0L625.4 377.8L626.2 376.3L627.1 373.3L627.9 370.3L628.8 373.5L630.1 368.7L631.4 371.0L632.7 370.3L634.0 369.8L634.6 368.4L635.2 364.5L635.9 363.8L636.5 364.8L637.1 360.8L637.8 362.3L638.4 359.4L639.0 360.3L639.9 358.2L640.8 357.9L641.7 356.4L642.6 352.8L643.4 350.6L644.3 353.4L645.2 352.2L646.1 351.8L647.0 350.8L648.2 349.2L649.4 345.7L650.6 348.1L651.8 345.9L653.0 347.9L654.1 346.0L655.3 345.6L656.4 345.4L657.5 343.8L658.6 340.2L659.8 342.5L660.9 342.1L662.0 340.7L663.1 340.5L664.3 339.2L665.4 339.0L666.6 337.8L667.9 337.3L669.1 336.3L670.4 335.3L671.6 334.5L672.9 334.6L674.1 330.1L675.4 333.0L676.6 332.1L677.9 332.5L679.2 329.3L680.5 331.3L681.8 330.3L683.1 328.9L684.4 329.0L685.7 326.1L687.0 327.3L688.3 326.8L689.6 327.4L690.9 325.0L692.2 326.0L693.5 325.2L694.8 323.9L696.0 322.6L697.3 323.5L698.6 322.4L699.9 322.2L701.2 321.6L702.4 318.3L703.7 319.4L705.0 318.4L706.2 318.3L707.5 316.8L708.7 318.0L710.0 317.8L711.3 315.5L712.5 312.6L713.8 315.6L715.1 312.5L716.4 311.7L717.6 312.7L718.9 312.7L720.1 310.8L721.3 310.1L722.5 310.3L723.8 309.0L725.0 307.5L726.2 308.3L727.4 306.5L728.6 305.7L729.9 305.0L731.1 305.1L732.3 303.0L733.5 303.9L735.0 303.4L736.5 302.9L738.0 302.9L739.5 297.7L741.0 299.9L742.5 300.3L744.0 295.7L745.4 298.7L746.9 298.5L748.3 298.3L749.8 295.0L751.2 298.5L752.3 298.8L753.4 300.7L754.5 300.8L755.6 303.2L756.8 300.4L758.0 304.1L759.2 304.4L760.4 301.0L761.6 305.4L762.8 303.2L764.0 306.5L765.2 307.6L766.1 307.3L767.1 309.3L768.0 309.1L768.9 310.9L769.8 311.7L770.8 311.9L771.7 314.2L772.9 312.4L774.0 312.0L774.7 312.6L775.4 310.6L776.2 314.3L776.9 316.3L777.6 317.8L777.9 317.9L778.2 320.2L778.5 320.1L778.8 322.1L779.1 323.6L779.5 324.8L779.8 324.4L780.1 326.1L780.4 329.3L780.7 329.9L781.0 330.9L781.3 333.2L782.6 332.0L783.8 331.0L785.1 330.9L786.4 330.3L787.3 330.3L788.3 331.5L789.2 333.0L790.2 330.8L791.1 335.2L792.1 336.5L793.0 338.3L793.8 338.7L794.7 339.7L795.5 340.4L796.3 338.1L797.1 342.6L798.0 340.6L798.8 345.4L799.7 343.6L800.6 342.6L801.6 341.6L802.5 340.5L803.5 340.4L804.4 342.3L805.4 343.5L806.1 339.2L806.7 339.7L807.4 339.2L808.0 336.4L808.7 336.9L809.4 336.7L810.0 338.5L810.7 338.1L811.3 340.7L812.0 342.7L812.7 340.7L813.5 342.6L814.2 346.2L815.0 346.7L815.7 348.6L816.4 348.8L817.2 350.6L817.9 352.3L819.4 352.4L820.8 351.5L822.3 352.3L823.7 349.4L825.2 353.3L826.7 353.2L828.1 352.7L829.6 353.1L831.0 350.5L832.5 353.7L833.7 354.3L834.9 354.3L836.0 355.8L837.2 356.6L838.4 357.4L839.9 355.9L841.3 357.8L842.8 357.8L844.3 359.6L844.7 358.6L845.1 361.8L845.5 363.4L846.0 363.6L846.4 363.0L846.8 365.5L847.2 369.1L847.5 368.8L847.8 370.6L848.2 372.0L848.5 373.4L848.8 371.4L849.1 373.2L849.5 377.5L849.8 379.0L850.1 380.8L850.6 381.3L851.1 383.3L851.6 385.2L853.0 384.2L854.5 383.4L856.0 385.0L857.4 385.2L858.9 384.7L860.4 383.2L861.8 383.8L863.3 382.3L864.8 383.0L866.2 381.1L867.5 380.4L868.9 381.1L864.0 399.8L862.9 399.6L861.8 398.3L860.6 399.3L859.5 400.8L858.3 400.8L857.2 402.3L856.0 402.0L854.7 401.5L853.5 401.4L852.2 400.6L851.0 399.9L849.7 399.7L848.5 399.0L847.2 398.3L845.7 399.0L844.2 398.2L842.8 398.0L841.3 396.8L839.8 397.2L838.4 397.4L836.9 399.1L835.4 396.1L834.0 395.0L832.5 394.6L831.6 396.7L830.7 397.7L829.9 398.3L829.0 399.8L828.1 400.5L827.4 400.2L826.7 398.9L825.9 397.9L825.2 396.1L823.8 397.5L822.3 397.7L820.9 397.9L819.4 398.3L818.4 400.1L817.4 401.4L816.4 402.0L815.5 402.5L814.6 400.5L813.8 399.0L812.9 399.6L812.0 396.1L811.3 397.5L810.5 394.0L809.8 395.1L809.1 392.1L808.4 391.9L807.7 389.5L806.9 388.6L806.2 386.6L804.7 388.5L803.2 385.9L801.9 387.1L800.6 389.9L799.2 390.0L797.9 389.0L796.6 389.5L796.2 391.7L795.9 394.8L795.5 395.7L795.1 397.0L794.8 400.0L794.4 398.3L793.4 398.3L792.4 396.3L791.3 396.1L790.3 395.8L789.3 393.2L788.6 394.5L787.8 395.6L787.1 396.6L786.4 397.6L785.4 399.7L784.5 396.0L783.5 393.9L783.3 396.2L783.2 396.8L783.0 399.6L782.9 399.2L782.7 400.5L781.2 402.2L779.8 401.3L778.3 401.3L776.9 401.1L775.4 401.2L774.9 405.6L774.5 405.1L774.0 405.6L772.5 407.7L771.0 403.4L769.9 405.5L768.8 404.9L767.7 406.9L766.6 408.0L765.5 408.6L764.4 408.6L763.4 409.9L762.4 411.2L761.3 413.0L760.3 415.0L759.3 414.4L758.1 415.5L756.8 416.8L755.6 416.6L755.4 418.6L755.2 420.2L754.9 423.1L754.7 424.4L754.5 424.0L754.3 425.5L754.1 429.1L753.8 428.8L753.6 428.8L753.4 429.8L753.2 434.7L752.9 435.0L752.7 436.2L752.5 436.3L752.2 437.4L752.0 438.6L751.4 441.5L750.8 441.9L750.2 443.7L749.6 443.9L749.0 444.4L748.6 446.9L748.1 447.9L747.7 449.0L747.2 452.3L746.8 451.4L746.4 453.6L745.9 453.9L745.5 458.3L745.0 456.8L744.6 457.6L743.2 460.9L741.7 459.1L740.3 458.4L739.8 461.1L739.3 462.1L738.8 465.5L738.3 463.8L737.8 468.2L737.3 466.4L736.1 467.3L734.9 464.4L733.7 462.8L733.1 465.0L732.5 468.8L731.8 467.1L731.2 468.5L730.6 469.3L729.5 468.8L728.4 466.4L727.3 466.3L726.2 465.4L725.1 464.2L724.0 463.7L722.9 465.0L721.8 462.0L720.8 461.6L719.7 461.0L718.7 459.9L717.6 459.2L716.6 459.2L715.5 459.1L714.5 456.2L713.0 458.0L711.6 458.7L710.1 458.4L709.0 460.7L707.9 457.7L706.8 457.2L705.7 455.4L704.5 457.3L703.3 457.7L702.0 459.5L700.8 459.6L699.6 460.5L698.4 460.6L697.1 461.1L695.8 461.7L694.5 459.5L693.2 459.8L692.0 460.7L690.7 459.6L689.4 456.3L688.1 455.4L687.7 454.2L687.2 454.2L686.8 451.8L686.3 450.3L685.9 448.1L685.0 447.5L684.1 446.0L683.3 445.1L682.4 443.7L681.5 442.3L680.0 443.6L678.6 443.8L677.2 446.6L675.7 443.7L674.9 442.7L674.0 443.9L673.2 442.4L672.3 440.1L671.5 438.2L670.6 436.4L669.5 436.5L668.4 437.9L667.3 437.0L666.2 432.7L665.7 431.9L665.1 433.2L664.5 429.3L664.0 428.3L663.5 427.4L662.9 428.7L662.3 424.8L661.8 423.2L660.5 425.2L659.2 421.9L657.9 424.2L656.6 420.3L655.7 419.8L654.8 418.9L653.9 417.5L653.0 415.2L651.7 416.1L650.4 417.5L649.0 416.9L647.7 418.5L646.4 418.1L645.7 422.5L644.9 421.1L644.2 422.4L643.5 423.9L642.7 425.1L642.0 427.9L641.2 426.6L640.5 426.9L639.8 429.2L639.0 432.0L638.3 431.3L637.1 433.3L636.0 435.8L634.8 434.1L633.7 435.7L632.5 435.7L631.0 435.0L629.5 434.2L629.1 433.3L628.7 432.6L628.3 431.4L627.8 429.5L627.4 430.4L627.0 427.5L626.6 425.4L625.6 426.9L624.6 427.9L623.5 430.4L622.5 431.9L621.5 429.8L620.6 432.7L619.6 434.2L618.7 433.4L617.8 433.5L617.4 435.0L617.1 438.2L616.7 437.9L616.3 440.6L616.0 441.0L615.6 441.5L614.3 445.2L612.9 442.5L611.6 443.1L610.3 442.6L608.9 443.2L607.6 443.0L606.5 445.0L605.3 448.2L604.2 445.9L603.7 447.7L603.1 443.7L602.6 445.6L602.1 441.7L601.5 440.6L601.0 438.6L600.6 437.6L600.2 435.9L599.9 436.5L599.5 432.8L599.1 431.3L600.5 432.9L601.9 430.9L603.2 429.9L604.6 428.3L605.7 427.7L606.7 427.1L607.8 428.1L608.8 425.2L609.9 425.6L610.9 423.7L612.0 422.5L612.7 421.7L613.5 421.6L614.2 420.1L614.9 419.4L615.6 419.5L616.3 415.9L617.1 415.2L617.8 413.7L617.9 412.8L618.0 412.7L618.1 409.8L618.2 409.2L618.2 407.3L618.3 406.3L618.4 405.1L618.5 403.8L618.6 402.0L618.8 400.9L619.0 399.9L619.2 398.3L619.4 397.1L619.6 396.3L619.8 396.4L620.0 391.7Z"/></clipPath>
<linearGradient id="wg1" gradientUnits="userSpaceOnUse" x1="700" y1="352" x2="723" y2="467"><stop offset="0" stop-color="#e6f3f9"/><stop offset=".22" stop-color="#d3eaf4"/><stop offset=".44" stop-color="#b4d8ec"/><stop offset=".66" stop-color="#86b6dc"/><stop offset=".87" stop-color="#6494cb"/><stop offset="1" stop-color="#5a8ac5"/></linearGradient>
<linearGradient id="wg2" gradientUnits="userSpaceOnUse" x1="690" y1="322" x2="712" y2="368"><stop offset="0" stop-color="#fbe9b7"/><stop offset=".55" stop-color="#fbefcd"/><stop offset="1" stop-color="#f3f5e6" stop-opacity="0"/></linearGradient>
<filter id="bl" x="-20%" y="-20%" width="140%" height="140%"><feGaussianBlur stdDeviation="5"/></filter>
<filter id="bl2" x="-20%" y="-20%" width="140%" height="140%"><feGaussianBlur stdDeviation="3"/></filter>
</defs>
<g clip-path="url(#wfc)">
<rect x="590" y="290" width="290" height="190" fill="url(#wg1)"/>
<path d="M596 425L622 405L640 412L632 440L600 450Z" fill="#6f9fd2" filter="url(#bl2)"/>
<path d="M776 300L880 350L880 410L776 410Z" fill="#d6ebf5"/>
<path d="M776 362L800 368L830 366L852 372L880 368L880 410L776 410Z" fill="#a9d0e8" filter="url(#bl2)"/>
<path d="M800 384L815 376L832 372L850 380L872 378L872 405L800 405Z" fill="#6f9fd2" filter="url(#bl2)"/>
<path d="M646 344L665 332L690 320L720 305L745 293L753 293L766 302L778 311L778 335L766 343L745 353L720 363L700 370L680 371L662 364L650 356L646 351Z" fill="url(#wg2)" filter="url(#bl2)"/>
<path d="M602.5 392v10M604.5 306v27M604.5 354v9M606.5 306v18M606.5 306v24M609.5 383v20M609.5 363v19M611.5 367v16M611.5 393v17M614.5 425v24M614.5 310v14M617.5 376v20M617.5 320v26M618.5 308v17M619.5 329v28M619.5 443v26M621.5 310v14M621.5 324v26M624.5 322v17M624.5 331v12M626.5 356v10M626.5 395v12M629.5 325v23M629.5 380v20M632.5 383v19M632.5 316v28M635.5 411v14M635.5 355v9M636.5 366v10M636.5 307v24M638.5 410v22M638.5 344v20M640.5 434v9M640.5 398v6M642.5 346v18M642.5 362v13M644.5 394v16M644.5 440v11M645.5 310v9M645.5 340v24M646.5 397v18M649.5 337v26M649.5 380v15M650.5 399v10M653.5 422v10M653.5 345v7M659.5 326v28M661.5 365v23M663.5 344v26M663.5 313v17M665.5 426v10M665.5 437v10M667.5 357v25M670.5 366v22M672.5 385v10M673.5 316v26M673.5 321v7M674.5 405v22M675.5 358v11M676.5 305v25M678.5 372v9M678.5 397v12M680.5 303v12M680.5 407v14M683.5 428v20M683.5 362v16M685.5 370v7M687.5 326v6M687.5 414v28M690.5 314v21M692.5 441v11M693.5 374v28M693.5 316v13M696.5 434v22M696.5 397v14M699.5 435v17M699.5 433v11M700.5 352v13M702.5 369v21M702.5 335v13M704.5 376v12M706.5 408v19M706.5 335v27M707.5 325v20M707.5 323v9M709.5 365v10M709.5 316v11M710.5 302v25M710.5 333v28M711.5 321v19M711.5 411v26M716.5 402v20M716.5 347v20M719.5 336v15M719.5 323v25M721.5 358v17M721.5 306v18M723.5 378v8M723.5 381v22M725.5 378v15M725.5 332v21M726.5 338v14M727.5 363v15M727.5 353v12M730.5 441v18M730.5 420v15M732.5 329v20M734.5 353v20M734.5 422v16M736.5 335v21M741.5 372v15M744.5 309v24M745.5 399v11M745.5 344v19M747.5 328v16M747.5 331v15M749.5 383v12M751.5 371v18M751.5 436v21M753.5 381v25M755.5 426v14M756.5 303v7M756.5 450v24M759.5 373v26M759.5 408v20M761.5 351v23M761.5 437v12M763.5 383v24M765.5 431v14M765.5 374v9M767.5 319v27M770.5 382v7M770.5 301v10M772.5 332v21M772.5 414v8M773.5 363v8M773.5 302v25M775.5 384v12M775.5 363v13M776.5 375v17M779.5 367v6M782.5 415v18M782.5 371v26M785.5 301v21M787.5 371v12M787.5 368v22M792.5 369v27M792.5 445v22M793.5 358v13M796.5 409v16M797.5 354v20M797.5 363v14M799.5 418v18M799.5 309v27M801.5 430v22M801.5 323v24M803.5 357v21M803.5 434v24M804.5 348v12M809.5 352v8M811.5 346v7M812.5 419v16M812.5 421v23M814.5 433v17M814.5 388v10M816.5 354v23M818.5 307v28M818.5 316v20M820.5 347v7M820.5 391v8M823.5 342v8M825.5 338v7M825.5 327v8M830.5 438v22M830.5 348v11M833.5 327v25M833.5 335v22M835.5 304v26M838.5 308v9M838.5 441v21M841.5 414v8M841.5 339v9M843.5 366v24M844.5 324v24M847.5 444v26M847.5 303v8M849.5 321v11M852.5 383v9M852.5 340v15M854.5 339v8M857.5 317v28M857.5 434v21M860.5 446v16M862.5 439v8M864.5 322v20M864.5 376v17M866.5 328v16M866.5 333v19M868.5 378v11M871.5 414v10M871.5 400v20M873.5 330v7M873.5 361v22" stroke="#fff" stroke-opacity=".16" stroke-width="1" fill="none"/>
<path d="M602.5 396v25M618.5 443v9M646.5 397v16M650.5 437v8M656.5 407v6M656.5 412v16M659.5 397v9M661.5 407v12M667.5 447v25M670.5 426v21M672.5 418v15M674.5 389v14M675.5 432v23M676.5 395v24M685.5 407v24M690.5 445v19M692.5 387v9M700.5 426v21M704.5 424v20M714.5 427v21M714.5 432v20M720.5 393v15M720.5 440v10M726.5 409v20M732.5 439v8M736.5 417v16M739.5 402v17M739.5 420v14M741.5 399v14M744.5 418v9M748.5 400v26M748.5 426v10M749.5 411v16M753.5 426v16M755.5 444v8M763.5 424v15M767.5 449v15M771.5 418v26M771.5 393v20M776.5 416v15M779.5 389v27M785.5 445v8M789.5 416v22M789.5 409v8M793.5 432v21M796.5 391v13M804.5 438v23M806.5 425v24M806.5 386v12M809.5 420v10M811.5 406v26M816.5 421v12M823.5 388v11M827.5 431v16M827.5 436v7M835.5 441v7M843.5 434v16M844.5 393v14M849.5 423v17M854.5 386v13M860.5 425v9M862.5 434v7M868.5 390v24" stroke="#5a8fc8" stroke-opacity=".12" stroke-width="1" fill="none"/>
</g>
<path d="M639.5 476L639.5 316L774.5 246.3L774.5 404.5Z" stroke="#ff0000" stroke-width="1" fill="none" shape-rendering="crispEdges"/>
</g>
<g id="bot">
<text x="538" y="607" text-anchor="middle">Max Rx Power</text>
<text x="538" y="758" text-anchor="middle">Time (UTC)</text>
<text transform="translate(20,670.5) rotate(-90)" text-anchor="middle">Power (dBm)</text>
<text x="77" y="666" text-anchor="end">-100</text>
<text x="77" y="711" text-anchor="end">-120</text>
<text x="89" y="730" text-anchor="middle">10:46:40</text>
<text x="389" y="730" text-anchor="middle">10:47:00</text>
<text x="689" y="730" text-anchor="middle">10:47:20</text>
<text x="989" y="730" text-anchor="middle">10:47:40</text>
<g stroke="#c4c4c4" stroke-width="1" stroke-dasharray="2 2" shape-rendering="crispEdges" fill="none">
<path d="M98 662.5H982M390.5 640V699M690.5 640V699"/>
</g>
<g class="ax cr">
<rect x="90.5" y="632.5" width="900" height="75"/>
<path d="M90 662.5H98M982 662.5H990M90 707.5H98M982 707.5H990"/>
<path d="M390.5 632V640M390.5 699V707M690.5 632V640M690.5 699V707"/>
<path d="M240.5 632V636M240.5 703V707M540.5 632V636M540.5 703V707M840.5 632V636M840.5 703V707"/>
</g>
<path d="M390.5 673.7L405.5 673.4L420.5 668.4L435.5 672.5L450.5 674.7L465.5 660L480.5 655.6L495.5 702L510.5 655.3L525.5 655.3L540.5 656.6L555.5 663.1L570.5 668.4L585.5 668.4M615.5 673.1L630.5 676.6" stroke="#ffff00" stroke-width="1" fill="none" shape-rendering="crispEdges"/>
<path d="M480.5 632V707" stroke="#ff0000" stroke-width="1" shape-rendering="crispEdges"/>
</g>
</svg>
</body></html>
